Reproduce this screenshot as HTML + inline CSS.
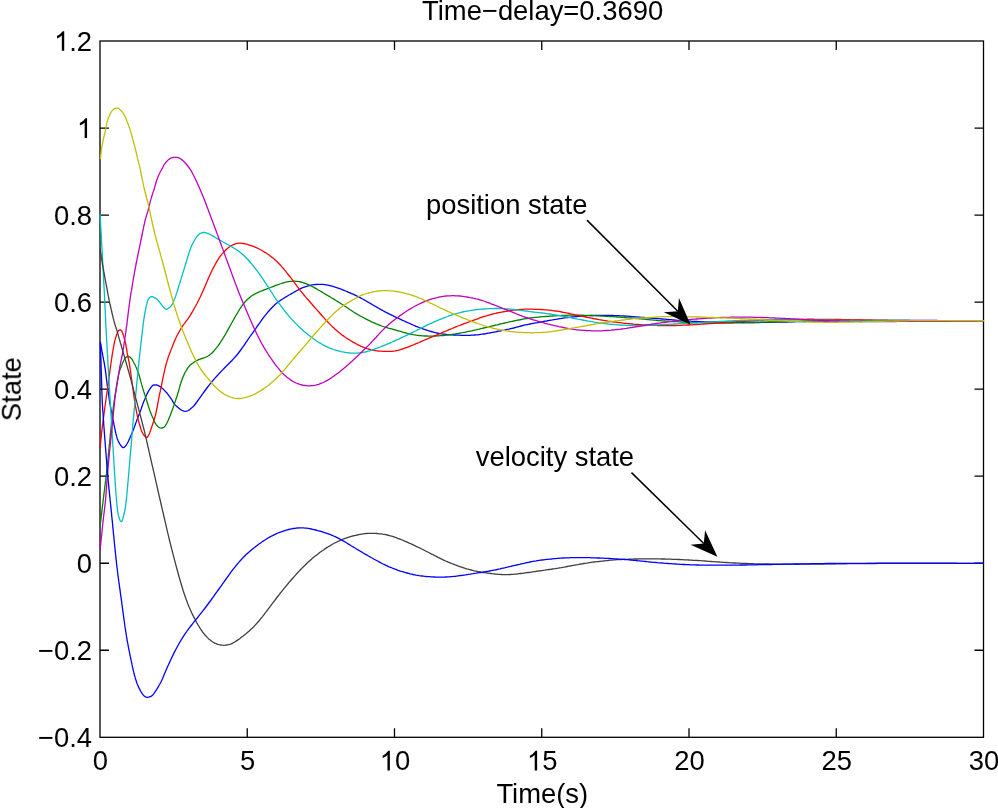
<!DOCTYPE html>
<html><head><meta charset="utf-8"><style>
html,body{margin:0;padding:0;background:#fff;width:998px;height:808px;overflow:hidden}
svg{display:block}
text{-webkit-font-smoothing:antialiased}
.t{filter:grayscale(1)}
</style></head><body>
<svg width="998" height="808" viewBox="0 0 998 808">
<rect width="998" height="808" fill="#fff"/>
<g stroke="#000" stroke-width="1.3" fill="none">
<rect x="100.0" y="41.0" width="883.5" height="696.3"/>
<path d="M247.25 737.3V728.3M247.25 41.0V50.0M394.50 737.3V728.3M394.50 41.0V50.0M541.75 737.3V728.3M541.75 41.0V50.0M689.00 737.3V728.3M689.00 41.0V50.0M836.25 737.3V728.3M836.25 41.0V50.0M100.0 128.04H109.0M983.5 128.04H974.5M100.0 215.07H109.0M983.5 215.07H974.5M100.0 302.11H109.0M983.5 302.11H974.5M100.0 389.15H109.0M983.5 389.15H974.5M100.0 476.19H109.0M983.5 476.19H974.5M100.0 563.23H109.0M983.5 563.23H974.5M100.0 650.26H109.0M983.5 650.26H974.5"/>
</g>
<defs><clipPath id="c"><rect x="99.0" y="40.0" width="885.5" height="698.3"/></clipPath></defs>
<g clip-path="url(#c)" fill="none" stroke-width="1.3" stroke-linejoin="round" stroke-linecap="round">
<path d="M100.4 342.4 100.6 343.4 100.7 344.3 100.9 345.0 101.0 345.7 101.1 346.5 101.3 347.4 101.5 348.2 101.6 349.1 101.8 350.0 101.9 350.9 102.1 351.8 102.3 352.7 102.4 353.6 102.6 354.4 102.7 355.2 102.9 356.0 103.0 356.8 103.2 357.6 103.3 358.3 103.5 359.1 103.6 359.9 103.8 360.8 104.0 361.6 104.1 362.5 104.3 363.5 104.5 364.5 104.6 365.5 104.8 366.6 105.0 367.8 105.2 369.1 105.4 370.5 105.5 371.2 105.6 371.9 105.7 372.7 105.8 373.5 105.9 374.2 106.0 375.0 106.1 375.8 106.2 376.6 106.3 377.5 106.4 378.3 106.5 379.1 106.6 379.9 106.7 380.7 106.8 381.5 106.9 382.3 107.0 383.1 107.1 383.9 107.2 384.6 107.3 385.4 107.4 386.1 107.5 386.8 107.7 388.2 107.9 389.5 108.1 390.7 108.2 391.8 108.4 392.9 108.5 394.0 108.7 395.0 108.8 396.0 108.9 396.9 109.1 397.8 109.2 398.7 109.3 399.6 109.4 400.5 109.6 401.4 109.7 402.2 109.9 403.1 110.0 404.0 110.2 404.9 110.3 405.8 110.5 406.6 110.6 407.5 110.8 408.3 111.0 409.1 111.1 409.9 111.3 410.7 111.4 411.5 111.6 412.3 111.8 413.1 111.9 413.9 112.1 414.7 112.2 415.4 112.4 416.2 112.5 417.0 112.7 417.7 112.8 418.5 113.0 419.2 113.1 419.9 113.3 420.7 113.4 421.4 113.5 422.1 113.7 422.8 113.8 423.5 113.9 424.2 114.1 424.9 114.2 425.6 114.4 426.3 114.5 427.0 114.6 427.7 114.8 428.4 114.9 429.1 115.1 429.8 115.2 430.6 115.4 431.3 115.5 432.0 115.7 432.7 115.9 433.7 116.2 434.7 116.4 435.6 116.6 436.5 116.9 437.4 117.1 438.2 117.4 438.9 117.6 439.6 117.9 440.3 118.3 441.1 118.6 441.9 119.0 442.6 119.4 443.3 119.8 444.0 120.2 444.7 120.7 445.4 121.1 446.0 121.6 446.5 122.2 447.1 122.8 447.5 123.6 447.6 124.3 447.2 124.9 446.6 125.4 446.1 125.9 445.5 126.4 444.9 126.8 444.2 127.2 443.5 127.6 442.7 128.0 442.0 128.4 441.3 128.7 440.5 129.1 439.7 129.4 439.1 129.6 438.4 130.0 437.7 130.3 436.9 130.6 436.1 131.0 435.3 131.4 434.4 131.7 433.8 132.0 433.1 132.3 432.4 132.6 431.7 132.9 431.0 133.2 430.3 133.5 429.5 133.8 428.7 134.1 427.8 134.4 427.0 134.7 426.1 135.0 425.2 135.3 424.4 135.6 423.6 135.9 422.8 136.2 422.1 136.5 421.4 136.7 420.7 137.0 419.8 137.3 419.0 137.7 418.2 138.0 417.4 138.3 416.6 138.6 415.8 138.9 415.0 139.2 414.2 139.5 413.4 139.8 412.6 140.1 411.8 140.4 411.0 140.7 410.2 141.0 409.4 141.3 408.5 141.6 407.6 141.9 406.7 142.2 405.8 142.5 405.0 142.8 404.1 143.1 403.3 143.4 402.5 143.7 401.8 144.0 401.1 144.3 400.4 144.6 399.7 144.9 398.9 145.2 398.2 145.5 397.4 145.9 396.6 146.2 395.8 146.6 395.0 146.9 394.2 147.3 393.4 147.7 392.6 148.1 391.8 148.5 391.2 148.9 390.5 149.3 389.9 149.7 389.2 150.1 388.6 150.6 388.0 151.1 387.2 151.6 386.6 152.1 386.0 152.7 385.5 153.3 385.1 154.1 385.0 154.8 384.9 155.6 384.9 156.3 385.0 157.1 385.2 157.8 385.4 158.5 385.7 159.2 386.1 159.9 386.5 160.5 386.9 161.1 387.3 161.7 387.8 162.2 388.3 162.8 388.8 163.3 389.3 163.9 389.9 164.4 390.4 165.0 391.0 165.6 391.6 166.1 392.2 166.7 392.8 167.2 393.3 167.6 393.9 168.1 394.5 168.5 395.2 169.0 395.8 169.4 396.4 169.8 397.0 170.3 397.6 170.7 398.1 171.1 398.7 171.5 399.3 172.0 400.0 172.4 400.7 172.7 401.4 173.1 402.1 173.5 402.8 173.9 403.4 174.4 404.0 174.9 404.6 175.4 405.1 176.0 405.7 176.6 406.2 177.1 406.8 177.7 407.3 178.3 407.7 178.9 408.2 179.4 408.7 180.0 409.1 180.6 409.5 181.3 410.0 182.0 410.4 182.7 410.7 183.5 411.0 184.2 411.2 185.0 411.3 186.7 411.1 188.2 410.5 189.7 409.6 191.2 408.3 192.7 407.0 194.2 405.5 195.7 403.5 197.2 401.5 198.7 399.4 200.2 397.3 201.7 395.2 203.2 393.1 204.7 391.0 206.2 389.0 207.7 387.0 209.2 385.1 210.7 383.2 212.2 381.3 213.7 379.6 215.2 377.9 216.7 376.2 218.2 374.6 219.7 373.0 221.2 371.4 222.7 369.9 224.2 368.3 225.7 366.8 227.2 365.3 228.7 363.7 230.2 362.2 231.7 360.7 233.2 359.1 234.7 357.5 236.2 355.8 237.7 354.0 239.2 352.0 240.7 350.0 242.2 347.9 243.7 345.8 245.2 343.6 246.7 341.4 248.2 339.2 249.7 337.0 251.2 334.9 252.7 332.8 254.2 330.7 255.7 328.6 257.1 326.5 258.6 324.4 260.1 322.3 261.6 320.2 263.1 318.2 264.6 316.2 266.1 314.3 267.6 312.4 269.1 310.7 270.6 309.0 272.1 307.5 273.6 306.0 275.1 304.6 276.6 303.3 278.1 302.1 279.6 301.0 281.1 299.9 282.6 299.0 284.1 298.0 285.6 297.1 287.1 296.2 288.6 295.3 290.1 294.5 291.6 293.6 293.1 292.7 294.6 291.9 296.1 291.0 297.6 290.2 299.1 289.4 300.6 288.6 302.1 287.9 303.6 287.3 305.1 286.8 306.6 286.3 308.1 285.9 309.6 285.5 311.1 285.2 312.6 284.9 314.1 284.7 315.6 284.5 317.1 284.4 318.6 284.3 320.1 284.3 321.6 284.3 323.1 284.4 324.6 284.6 326.1 284.8 327.6 285.1 329.1 285.4 330.6 285.8 332.1 286.2 333.6 286.6 335.1 287.1 336.6 287.6 338.1 288.1 339.6 288.7 341.1 289.2 342.6 289.8 344.1 290.4 345.6 291.0 347.1 291.6 348.6 292.3 350.1 292.9 351.6 293.6 353.1 294.2 354.6 294.9 356.1 295.6 357.6 296.4 359.1 297.1 360.6 297.9 362.1 298.7 363.6 299.5 365.1 300.4 366.6 301.2 368.1 302.1 369.6 303.0 371.1 303.9 372.6 304.8 374.1 305.6 375.6 306.5 377.1 307.4 378.6 308.3 380.1 309.1 381.6 309.9 383.1 310.8 384.6 311.6 386.1 312.4 387.6 313.1 389.1 313.9 390.6 314.6 392.1 315.3 393.6 316.1 395.1 316.8 396.6 317.5 398.1 318.2 399.6 318.9 401.1 319.6 402.6 320.3 404.1 321.0 405.6 321.7 407.1 322.4 408.6 323.0 410.1 323.7 411.6 324.3 413.1 325.0 414.6 325.6 416.1 326.3 417.6 326.9 419.1 327.5 420.6 328.0 422.1 328.6 423.6 329.2 425.1 329.7 426.6 330.2 428.1 330.7 429.6 331.1 431.1 331.5 432.6 331.9 434.1 332.3 435.6 332.7 437.1 333.0 438.6 333.3 440.1 333.6 441.6 333.8 443.1 334.1 444.6 334.2 446.1 334.4 447.6 334.6 449.1 334.7 450.6 334.8 452.1 334.9 453.6 335.0 455.1 335.0 456.6 335.1 458.1 335.2 459.6 335.2 461.1 335.3 462.6 335.3 464.1 335.3 465.6 335.3 467.1 335.3 468.6 335.3 470.1 335.3 471.6 335.2 473.1 335.1 474.6 335.0 476.1 334.9 477.6 334.8 479.1 334.6 480.6 334.4 482.1 334.2 483.6 334.0 485.1 333.8 486.6 333.5 488.1 333.2 489.6 333.0 491.1 332.7 492.6 332.4 494.1 332.1 495.6 331.8 497.1 331.5 498.6 331.2 500.1 331.0 501.6 330.7 503.1 330.4 504.6 330.1 506.1 329.7 507.6 329.4 509.1 329.1 510.6 328.7 512.1 328.3 513.6 328.0 515.1 327.6 516.6 327.2 518.1 326.8 519.6 326.4 521.1 326.0 522.6 325.6 524.1 325.2 525.6 324.9 527.1 324.6 528.6 324.3 530.1 324.0 531.6 323.7 533.1 323.4 534.6 323.1 536.1 322.8 537.6 322.6 539.1 322.3 540.6 322.0 542.1 321.8 543.6 321.5 545.1 321.2 546.6 321.0 548.1 320.7 549.6 320.4 551.1 320.1 552.6 319.9 554.1 319.6 555.6 319.3 557.1 319.1 558.6 318.8 560.1 318.6 561.6 318.4 563.1 318.1 564.6 317.9 566.1 317.7 567.6 317.5 569.1 317.4 570.6 317.2 572.1 317.0 573.6 316.9 575.1 316.7 576.6 316.6 578.1 316.4 579.6 316.3 581.1 316.2 582.6 316.1 584.1 315.9 585.6 315.8 587.1 315.7 588.6 315.7 590.1 315.6 591.6 315.5 593.1 315.5 594.6 315.4 596.1 315.4 597.6 315.4 599.1 315.4 600.6 315.4 602.1 315.4 603.6 315.4 605.1 315.4 606.6 315.4 608.1 315.4 609.6 315.5 611.1 315.5 612.6 315.5 614.1 315.6 615.6 315.6 617.1 315.7 618.6 315.7 620.1 315.8 621.6 315.9 623.1 315.9 624.6 316.0 626.1 316.1 627.6 316.2 629.1 316.4 630.6 316.5 632.1 316.6 633.6 316.7 635.1 316.8 636.6 316.9 638.1 317.1 639.6 317.2 641.1 317.3 642.6 317.4 644.1 317.5 645.6 317.7 647.1 317.8 648.6 317.9 650.1 318.0 651.6 318.1 653.1 318.3 654.6 318.4 656.1 318.5 657.6 318.6 659.1 318.7 660.6 318.9 662.1 319.0 663.6 319.1 665.1 319.2 666.6 319.4 668.1 319.5 669.6 319.6 671.1 319.7 672.6 319.9 674.1 320.0 675.6 320.1 677.1 320.3 678.6 320.4 680.1 320.5 681.6 320.6 683.1 320.8 684.6 320.9 686.1 321.0 687.6 321.1 689.1 321.2 690.6 321.2 692.1 321.3 693.6 321.4 695.1 321.5 696.6 321.5 698.1 321.6 699.6 321.6 701.1 321.7 702.6 321.7 704.1 321.8 705.6 321.8 707.1 321.8 708.6 321.9 710.1 321.9 711.6 321.9 713.1 321.9 714.6 322.0 716.1 322.0 717.6 322.0 719.1 322.1 720.6 322.1 722.1 322.1 723.6 322.2 725.1 322.2 726.6 322.2 728.1 322.2 729.6 322.3 731.1 322.3 732.6 322.3 734.1 322.3 735.6 322.4 737.1 322.4 738.6 322.4 740.1 322.4 741.6 322.4 743.1 322.5 744.6 322.5 746.1 322.5 747.6 322.5 749.1 322.5 750.6 322.5 752.1 322.5 753.6 322.5 755.1 322.5 756.6 322.5 758.1 322.5 759.6 322.5 761.1 322.4 762.6 322.4 764.1 322.4 765.6 322.4 767.1 322.4 768.6 322.3 770.1 322.3 771.6 322.3 773.1 322.3 774.6 322.2 776.1 322.2 777.6 322.2 779.1 322.1 780.6 322.1 782.1 322.1 783.6 322.0 785.1 322.0 786.6 322.0 788.1 321.9 789.6 321.9 791.1 321.9 792.6 321.8 794.1 321.8 795.6 321.7 797.1 321.7 798.6 321.7 800.1 321.6 801.6 321.6 803.1 321.6 804.6 321.5 806.1 321.5 807.6 321.4 809.1 321.4 810.6 321.4 812.1 321.3 813.6 321.3 815.1 321.2 816.6 321.2 818.1 321.2 819.6 321.1 821.1 321.1 822.6 321.1 824.1 321.0 825.6 321.0 827.1 321.0 828.6 321.0 830.1 320.9 831.6 320.9 833.1 320.9 834.6 320.8 836.1 320.8 837.6 320.8 839.1 320.8 840.6 320.7 842.1 320.7 843.6 320.7 845.1 320.7 846.6 320.6 848.1 320.6 849.6 320.6 851.1 320.6 852.6 320.6 854.1 320.5 855.6 320.5 857.1 320.5 858.6 320.5 860.1 320.5 861.6 320.5 863.1 320.5 864.6 320.4 866.1 320.4 867.6 320.4 869.1 320.4 870.6 320.4 872.1 320.4 873.6 320.4 875.1 320.4 876.6 320.4 878.1 320.4 879.6 320.4 881.1 320.4 882.6 320.4 884.1 320.4 885.6 320.4 887.1 320.4 888.6 320.4 890.1 320.4 891.6 320.4 893.1 320.4 894.6 320.4 896.1 320.4 897.6 320.4 899.1 320.4 900.6 320.4 902.1 320.4 903.6 320.4 905.1 320.4 906.6 320.5 908.1 320.5 909.6 320.5 911.1 320.5 912.6 320.5 914.1 320.5 915.6 320.5 917.1 320.5 918.6 320.5 920.1 320.5 921.6 320.5 923.1 320.5 924.6 320.5 926.1 320.5 927.6 320.5 929.1 320.5 930.6 320.5 932.1 320.5 933.6 320.5 935.1 320.5 936.6 320.5 938.1 320.6 939.6 320.6 941.1 320.6 942.6 320.6 944.1 320.6 945.6 320.6 947.1 320.6 948.6 320.6 950.1 320.6 951.6 320.6 953.1 320.6 954.6 320.6 956.1 320.6 957.6 320.6 959.1 320.6 960.6 320.6 962.1 320.6 963.6 320.6 965.1 320.6 966.6 320.6 968.1 320.6 969.6 320.7 971.1 320.7 972.6 320.7 974.1 320.7 975.6 320.7 977.1 320.7 978.6 320.7 980.1 320.7 981.6 320.7 983.1 320.7 983.4 320.7" stroke="#0000ff"/>
<path d="M100.2 525.6 100.3 524.6 100.4 523.5 100.6 522.2 100.7 521.5 100.8 520.8 100.9 520.0 100.9 519.2 101.0 518.4 101.1 517.5 101.2 516.6 101.3 515.7 101.5 514.8 101.6 513.9 101.7 512.9 101.8 511.9 101.9 510.9 102.0 510.0 102.1 509.0 102.3 508.0 102.4 506.9 102.5 505.9 102.6 504.9 102.7 503.9 102.9 502.9 103.0 501.9 103.1 501.0 103.2 500.0 103.3 499.0 103.4 498.1 103.6 497.1 103.7 496.1 103.8 495.1 103.9 494.1 104.1 493.0 104.2 492.0 104.3 491.0 104.5 489.9 104.6 488.9 104.7 487.8 104.9 486.7 105.0 485.7 105.1 484.6 105.3 483.5 105.4 482.4 105.5 481.3 105.7 480.2 105.8 479.1 105.9 478.0 106.1 476.9 106.2 475.8 106.3 474.7 106.5 473.6 106.6 472.5 106.7 471.4 106.9 470.2 107.0 469.1 107.1 468.0 107.2 466.9 107.3 465.7 107.5 464.6 107.6 463.4 107.7 462.2 107.8 461.0 107.9 459.8 108.1 458.6 108.2 457.3 108.3 456.1 108.4 454.9 108.5 453.6 108.7 452.4 108.8 451.2 108.9 449.9 109.0 448.7 109.1 447.5 109.2 446.3 109.3 445.1 109.5 443.9 109.6 442.7 109.7 441.6 109.8 440.4 109.9 439.3 110.0 438.2 110.1 437.1 110.2 436.0 110.3 435.0 110.4 434.0 110.5 433.0 110.6 432.0 110.7 431.1 110.8 430.2 110.9 429.3 111.0 428.5 111.0 427.6 111.1 426.8 111.2 426.0 111.3 425.2 111.4 424.4 111.5 423.6 111.5 422.9 111.6 422.1 111.7 421.4 111.8 420.7 111.8 420.0 111.9 419.3 112.0 418.6 112.1 417.8 112.2 416.4 112.4 415.0 112.5 414.3 112.6 413.6 112.6 412.9 112.7 412.2 112.8 411.5 112.9 410.7 113.0 410.0 113.1 409.2 113.2 408.5 113.3 407.7 113.4 407.0 113.5 406.2 113.6 405.4 113.7 404.7 113.8 403.9 113.9 403.1 114.0 402.3 114.1 401.6 114.2 400.8 114.4 400.0 114.5 399.3 114.6 398.5 114.7 397.7 114.8 397.0 114.9 396.2 115.0 395.5 115.1 394.8 115.2 394.1 115.4 393.3 115.5 392.6 115.7 391.2 115.9 389.9 116.1 388.6 116.3 387.4 116.5 386.2 116.7 385.0 116.9 383.9 117.1 382.8 117.2 381.7 117.4 380.7 117.6 379.7 117.8 378.7 118.0 377.7 118.2 376.8 118.3 375.9 118.5 375.0 118.7 374.2 118.9 373.4 119.1 372.6 119.3 371.9 119.5 371.2 119.8 370.2 120.1 369.3 120.4 368.5 120.7 367.7 121.0 366.9 121.3 366.2 121.6 365.5 121.9 364.7 122.2 364.0 122.5 363.3 122.8 362.6 123.1 361.9 123.4 361.3 123.8 360.5 124.2 359.7 124.6 359.1 125.1 358.4 125.6 357.8 126.2 357.2 126.8 356.9 127.5 356.6 128.3 356.5 129.0 356.6 129.7 357.0 130.3 357.4 130.9 357.9 131.4 358.5 131.9 359.1 132.3 359.8 132.7 360.5 133.1 361.2 133.5 362.0 133.9 362.8 134.3 363.5 134.7 364.2 135.0 364.8 135.3 365.5 135.7 366.2 136.0 367.0 136.4 367.8 136.7 368.7 137.0 369.4 137.3 370.1 137.5 370.8 137.8 371.5 138.1 372.3 138.4 373.0 138.6 373.8 138.9 374.5 139.1 375.3 139.3 376.1 139.6 376.9 139.8 377.7 140.0 378.5 140.2 379.3 140.5 380.1 140.7 380.9 140.9 381.7 141.2 382.5 141.4 383.3 141.6 384.2 141.8 385.0 142.1 385.8 142.3 386.6 142.5 387.4 142.8 388.2 143.0 389.0 143.2 389.7 143.4 390.5 143.7 391.4 144.0 392.2 144.3 393.0 144.5 393.8 144.8 394.5 145.0 395.2 145.3 396.0 145.6 397.0 145.8 397.7 146.1 398.5 146.3 399.4 146.6 400.3 146.9 401.2 147.2 402.2 147.5 403.2 147.8 404.2 148.1 405.2 148.4 406.2 148.7 407.1 149.0 408.1 149.3 408.9 149.6 409.7 149.8 410.4 150.1 411.3 150.4 412.2 150.7 412.9 151.1 413.7 151.4 414.5 151.7 415.2 152.1 416.0 152.4 416.8 152.7 417.4 153.0 418.1 153.3 418.8 153.5 419.5 153.8 420.2 154.1 420.8 154.4 421.5 154.8 422.3 155.2 423.1 155.6 423.7 156.0 424.3 156.5 425.0 157.1 425.6 157.6 426.2 158.2 426.8 158.8 427.2 159.4 427.6 160.0 427.9 160.8 428.1 161.5 428.1 162.3 428.0 163.0 427.7 163.6 427.4 164.3 427.0 164.8 426.4 165.3 425.8 165.7 425.2 166.1 424.4 166.5 423.8 166.9 423.0 167.3 422.2 167.7 421.4 168.0 420.7 168.3 420.0 168.6 419.2 168.9 418.5 169.3 417.6 169.6 416.8 170.0 415.9 170.4 414.9 170.8 414.0 171.1 413.0 171.5 412.0 171.9 411.1 172.2 410.1 172.5 409.4 172.7 408.7 173.0 408.0 173.2 407.3 173.4 406.6 173.7 405.9 173.9 405.2 174.2 404.5 174.4 403.8 174.7 403.1 174.9 402.4 175.1 401.7 175.4 401.0 175.7 400.0 176.0 399.0 176.3 398.1 176.7 397.1 177.0 396.2 177.3 395.2 177.6 394.3 177.8 393.4 178.1 392.6 178.4 391.8 178.6 391.0 178.8 390.3 179.0 389.4 179.2 388.7 179.4 387.9 179.6 387.2 179.8 386.5 180.0 385.7 180.3 384.8 180.5 384.0 180.8 383.2 181.0 382.4 181.3 381.6 181.6 380.7 181.9 379.9 182.2 379.1 182.5 378.3 182.8 377.5 183.1 376.8 183.4 376.1 183.7 375.4 184.0 374.7 184.3 374.0 184.6 373.4 185.2 372.3 186.7 369.7 188.2 367.4 189.7 365.6 191.2 364.2 192.7 363.2 194.2 362.1 195.7 361.2 197.2 360.4 198.7 359.7 200.2 359.1 201.7 358.6 203.2 358.1 204.7 357.6 206.2 357.0 207.7 356.2 209.2 355.2 210.7 354.0 212.2 352.7 213.7 351.2 215.2 349.4 216.7 347.6 218.2 345.6 219.7 343.5 221.2 341.2 222.7 338.8 224.2 336.3 225.7 333.7 227.2 331.1 228.7 328.4 230.2 325.7 231.7 323.0 233.2 320.3 234.7 317.6 236.2 315.0 237.7 312.5 239.2 310.0 240.7 307.7 242.2 305.5 243.7 303.5 245.2 301.7 246.7 300.1 248.2 298.7 249.7 297.4 251.2 296.3 252.7 295.3 254.2 294.4 255.7 293.5 257.2 292.8 258.7 292.1 260.2 291.5 261.7 290.9 263.2 290.3 264.7 289.7 266.2 289.2 267.7 288.6 269.2 288.0 270.7 287.5 272.2 286.9 273.7 286.3 275.2 285.7 276.7 285.1 278.2 284.6 279.7 284.0 281.2 283.5 282.7 283.0 284.2 282.6 285.7 282.2 287.2 281.9 288.7 281.6 290.2 281.4 291.7 281.3 293.2 281.2 294.7 281.2 296.2 281.3 297.7 281.4 299.2 281.7 300.7 282.0 302.2 282.4 303.7 282.8 305.2 283.3 306.7 283.9 308.2 284.6 309.7 285.3 311.2 286.0 312.7 286.8 314.2 287.6 315.7 288.4 317.2 289.3 318.7 290.2 320.2 291.0 321.7 291.9 323.2 292.8 324.7 293.7 326.2 294.6 327.7 295.5 329.2 296.4 330.7 297.3 332.2 298.2 333.7 299.1 335.2 300.0 336.7 301.0 338.2 301.9 339.7 302.8 341.2 303.8 342.7 304.8 344.2 305.8 345.7 306.8 347.2 307.8 348.7 308.8 350.2 309.8 351.7 310.8 353.2 311.8 354.7 312.7 356.2 313.6 357.7 314.5 359.2 315.4 360.7 316.2 362.2 317.0 363.7 317.8 365.2 318.6 366.7 319.4 368.2 320.1 369.7 320.8 371.2 321.6 372.7 322.3 374.2 322.9 375.7 323.6 377.2 324.2 378.7 324.8 380.2 325.4 381.7 326.0 383.2 326.5 384.7 327.0 386.2 327.4 387.7 327.9 389.2 328.3 390.7 328.7 392.2 329.1 393.7 329.5 395.2 329.9 396.7 330.4 398.2 330.8 399.7 331.2 401.2 331.6 402.7 332.1 404.2 332.5 405.7 332.9 407.2 333.3 408.7 333.6 410.2 334.0 411.7 334.3 413.2 334.6 414.7 334.8 416.2 335.1 417.7 335.3 419.2 335.5 420.7 335.6 422.2 335.8 423.7 335.9 425.2 336.0 426.7 336.0 428.2 336.1 429.7 336.1 431.2 336.1 432.7 336.1 434.2 336.0 435.7 336.0 437.2 335.9 438.7 335.8 440.2 335.7 441.7 335.6 443.2 335.5 444.7 335.3 446.2 335.2 447.7 335.0 449.2 334.8 450.7 334.6 452.2 334.4 453.7 334.2 455.2 334.0 456.7 333.7 458.2 333.5 459.7 333.2 461.2 332.9 462.7 332.7 464.2 332.4 465.7 332.1 467.2 331.7 468.7 331.4 470.2 331.1 471.7 330.8 473.2 330.4 474.7 330.1 476.2 329.8 477.7 329.4 479.2 329.1 480.7 328.7 482.2 328.4 483.7 328.0 485.2 327.6 486.7 327.3 488.2 326.9 489.7 326.6 491.2 326.2 492.7 325.8 494.2 325.5 495.7 325.1 497.2 324.8 498.7 324.4 500.2 324.0 501.7 323.7 503.2 323.3 504.7 323.0 506.2 322.6 507.7 322.3 509.2 321.9 510.7 321.6 512.2 321.3 513.7 321.0 515.2 320.6 516.7 320.3 518.2 320.0 519.7 319.8 521.2 319.5 522.7 319.2 524.2 318.9 525.7 318.7 527.2 318.5 528.7 318.2 530.2 318.0 531.7 317.8 533.2 317.6 534.7 317.4 536.2 317.3 537.7 317.1 539.2 317.0 540.7 316.8 542.2 316.7 543.7 316.6 545.2 316.5 546.7 316.4 548.2 316.3 549.7 316.2 551.2 316.1 552.7 316.0 554.2 315.9 555.7 315.8 557.2 315.7 558.7 315.6 560.2 315.6 561.7 315.5 563.2 315.4 564.7 315.4 566.2 315.3 567.7 315.3 569.2 315.2 570.7 315.2 572.2 315.2 573.7 315.2 575.2 315.1 576.7 315.1 578.2 315.2 579.7 315.2 581.2 315.2 582.7 315.2 584.2 315.3 585.7 315.3 587.2 315.4 588.7 315.4 590.2 315.5 591.7 315.5 593.2 315.6 594.7 315.7 596.2 315.8 597.7 315.8 599.2 315.9 600.7 316.0 602.2 316.1 603.7 316.2 605.2 316.3 606.7 316.3 608.2 316.4 609.7 316.5 611.2 316.6 612.7 316.7 614.2 316.8 615.7 316.9 617.2 317.0 618.7 317.1 620.2 317.2 621.7 317.3 623.2 317.4 624.7 317.5 626.2 317.6 627.7 317.8 629.2 317.9 630.7 318.0 632.2 318.1 633.7 318.2 635.2 318.3 636.7 318.5 638.2 318.6 639.7 318.8 641.2 318.9 642.7 319.0 644.2 319.2 645.7 319.3 647.2 319.5 648.7 319.6 650.2 319.8 651.7 319.9 653.2 320.1 654.7 320.2 656.2 320.3 657.7 320.5 659.2 320.6 660.7 320.7 662.2 320.8 663.7 320.9 665.2 321.0 666.7 321.1 668.2 321.2 669.7 321.3 671.2 321.4 672.7 321.5 674.2 321.6 675.7 321.7 677.2 321.7 678.7 321.8 680.2 321.9 681.7 322.0 683.2 322.1 684.7 322.1 686.2 322.2 687.7 322.3 689.2 322.3 690.7 322.4 692.2 322.5 693.7 322.5 695.2 322.6 696.7 322.6 698.2 322.7 699.7 322.7 701.2 322.7 702.7 322.8 704.2 322.8 705.7 322.8 707.2 322.9 708.7 322.9 710.2 322.9 711.7 322.9 713.2 323.0 714.7 323.0 716.2 323.0 717.7 323.0 719.2 323.0 720.7 323.0 722.2 323.0 723.7 323.0 725.2 323.0 726.7 323.0 728.2 323.0 729.7 323.0 731.2 323.0 732.7 323.0 734.2 322.9 735.7 322.9 737.2 322.9 738.7 322.9 740.2 322.8 741.7 322.8 743.2 322.8 744.7 322.7 746.2 322.7 747.7 322.6 749.2 322.6 750.7 322.5 752.2 322.5 753.7 322.5 755.2 322.4 756.7 322.4 758.2 322.3 759.7 322.3 761.2 322.2 762.7 322.2 764.2 322.2 765.7 322.1 767.2 322.1 768.7 322.0 770.2 322.0 771.7 322.0 773.2 321.9 774.7 321.9 776.2 321.8 777.7 321.8 779.2 321.8 780.7 321.7 782.2 321.7 783.7 321.6 785.2 321.6 786.7 321.6 788.2 321.5 789.7 321.5 791.2 321.5 792.7 321.4 794.2 321.4 795.7 321.3 797.2 321.3 798.7 321.3 800.2 321.2 801.7 321.2 803.2 321.2 804.7 321.1 806.2 321.1 807.7 321.0 809.2 321.0 810.7 321.0 812.2 321.0 813.7 320.9 815.2 320.9 816.7 320.9 818.2 320.8 819.7 320.8 821.2 320.8 822.7 320.8 824.2 320.7 825.7 320.7 827.2 320.7 828.7 320.7 830.2 320.6 831.7 320.6 833.2 320.6 834.7 320.6 836.2 320.6 837.7 320.5 839.2 320.5 840.7 320.5 842.2 320.5 843.7 320.5 845.2 320.5 846.7 320.4 848.2 320.4 849.7 320.4 851.2 320.4 852.7 320.4 854.2 320.4 855.7 320.4 857.2 320.4 858.7 320.3 860.2 320.3 861.7 320.3 863.2 320.3 864.7 320.3 866.2 320.3 867.7 320.3 869.2 320.3 870.7 320.3 872.2 320.3 873.7 320.3 875.2 320.3 876.7 320.3 878.2 320.3 879.7 320.3 881.2 320.3 882.7 320.3 884.2 320.3 885.7 320.3 887.2 320.4 888.7 320.4 890.2 320.4 891.7 320.4 893.2 320.4 894.7 320.4 896.2 320.4 897.7 320.4 899.2 320.5 900.7 320.5 902.2 320.5 903.7 320.5 905.2 320.5 906.7 320.5 908.2 320.5 909.7 320.5 911.2 320.6 912.7 320.6 914.2 320.6 915.7 320.6 917.2 320.6 918.7 320.6 920.2 320.6 921.7 320.6 923.2 320.6 924.7 320.6 926.2 320.6 927.7 320.6 929.2 320.6 930.7 320.6 932.2 320.6 933.7 320.6 935.2 320.6 936.7 320.6 938.2 320.6 939.7 320.6 941.2 320.6 942.7 320.7 944.2 320.7 945.7 320.7 947.2 320.7 948.7 320.7 950.2 320.7 951.7 320.7 953.2 320.7 954.7 320.7 956.2 320.7 957.7 320.7 959.2 320.7 960.7 320.7 962.2 320.7 963.7 320.7 965.2 320.7 966.7 320.7 968.2 320.7 969.7 320.7 971.2 320.7 972.7 320.7 974.2 320.7 975.7 320.7 977.2 320.7 978.7 320.7 980.2 320.7 981.7 320.7 983.2 320.7 983.5 320.7" stroke="#008000"/>
<path d="M100.1 447.5 100.2 446.5 100.3 445.7 100.4 444.7 100.5 443.7 100.6 442.6 100.7 441.4 100.8 440.1 101.0 438.9 101.1 437.6 101.2 436.3 101.4 435.0 101.5 433.8 101.6 432.6 101.7 431.5 101.9 430.5 102.0 429.5 102.1 428.6 102.2 427.6 102.3 426.7 102.4 425.9 102.5 425.0 102.7 424.1 102.8 423.2 102.9 422.3 103.0 421.4 103.1 420.5 103.3 419.5 103.4 418.6 103.5 417.5 103.7 416.5 103.8 415.4 104.0 414.2 104.1 413.1 104.3 411.9 104.4 410.7 104.6 409.4 104.8 408.2 104.9 406.9 105.1 405.7 105.3 404.5 105.4 403.2 105.6 402.0 105.8 400.8 105.9 399.6 106.1 398.4 106.2 397.3 106.4 396.1 106.6 394.9 106.8 393.8 106.9 392.7 107.1 391.5 107.3 390.4 107.4 389.2 107.6 388.1 107.8 387.0 107.9 385.9 108.1 384.8 108.3 383.7 108.4 382.6 108.6 381.5 108.7 380.4 108.9 379.3 109.0 378.2 109.2 377.1 109.3 376.0 109.4 374.9 109.6 373.8 109.7 372.7 109.8 371.7 110.0 370.6 110.1 369.6 110.3 368.5 110.4 367.5 110.5 366.5 110.7 365.5 110.8 364.5 110.9 363.5 111.1 362.6 111.2 361.6 111.4 360.6 111.5 359.7 111.6 358.8 111.8 357.8 111.9 356.9 112.1 356.0 112.2 355.1 112.3 354.2 112.5 353.3 112.6 352.4 112.8 351.6 112.9 350.7 113.1 349.8 113.2 349.0 113.4 348.1 113.5 347.3 113.6 346.5 113.8 345.7 113.9 344.9 114.1 344.1 114.3 343.3 114.4 342.5 114.6 341.8 114.7 341.0 114.9 340.3 115.1 339.7 115.4 338.6 115.7 337.6 116.0 336.6 116.3 335.7 116.6 334.8 116.9 334.0 117.3 333.2 117.5 332.5 117.9 331.7 118.3 330.9 118.8 330.3 119.5 330.0 120.3 330.0 121.0 330.1 121.5 330.6 121.9 331.3 122.3 332.1 122.5 332.8 122.8 333.6 123.1 334.5 123.5 335.5 123.7 336.1 123.9 336.8 124.1 337.6 124.3 338.3 124.5 339.1 124.7 339.8 124.9 340.6 125.1 341.4 125.3 342.2 125.5 343.1 125.7 344.1 125.8 345.0 126.0 346.0 126.2 347.0 126.4 348.0 126.6 349.0 126.7 350.0 126.9 351.0 127.1 352.0 127.2 352.9 127.4 353.8 127.5 354.6 127.7 355.4 127.8 356.1 128.0 357.1 128.2 358.0 128.4 358.9 128.6 359.7 128.7 360.5 128.9 361.3 129.1 362.2 129.2 363.0 129.4 364.0 129.6 365.0 129.7 366.1 129.8 366.8 129.9 367.5 130.0 368.2 130.2 368.9 130.3 369.7 130.4 370.4 130.5 371.2 130.6 371.9 130.7 372.7 130.8 373.5 130.9 374.2 131.0 375.0 131.1 375.8 131.2 376.5 131.3 377.3 131.4 378.1 131.6 378.9 131.7 379.7 131.8 380.5 131.9 381.3 132.0 382.1 132.1 382.9 132.2 383.7 132.4 384.5 132.5 385.3 132.6 386.2 132.7 387.0 132.8 387.8 132.9 388.7 133.1 389.6 133.2 390.5 133.3 391.4 133.4 392.3 133.5 393.2 133.7 394.1 133.8 395.0 133.9 395.9 134.0 396.7 134.1 397.6 134.3 398.4 134.4 399.2 134.5 400.0 134.6 400.8 134.7 401.5 134.8 402.2 135.0 402.9 135.1 404.0 135.3 405.0 135.5 406.0 135.6 406.9 135.8 407.9 136.0 408.8 136.1 409.7 136.3 410.6 136.5 411.4 136.6 412.3 136.8 413.1 136.9 413.9 137.1 414.6 137.2 415.4 137.4 416.2 137.6 416.9 137.7 417.7 137.9 418.5 138.1 419.3 138.3 420.2 138.6 421.0 138.8 421.8 139.0 422.6 139.2 423.4 139.5 424.2 139.7 425.0 139.9 425.8 140.2 426.5 140.4 427.2 140.6 427.9 140.8 428.6 141.0 429.3 141.3 430.0 141.6 430.9 141.9 431.7 142.3 432.5 142.7 433.3 143.2 434.1 143.7 434.8 144.2 435.5 144.8 436.2 145.3 436.7 145.9 437.2 146.6 437.4 147.3 437.3 147.8 436.7 148.1 436.1 148.5 435.5 148.9 434.7 149.2 434.1 149.5 433.3 149.8 432.5 150.1 431.6 150.4 430.7 150.8 429.8 151.1 428.8 151.4 428.1 151.6 427.4 151.8 426.8 152.1 426.1 152.3 425.3 152.6 424.6 152.8 423.9 153.1 423.1 153.3 422.3 153.6 421.5 153.9 420.7 154.1 419.9 154.4 419.0 154.6 418.2 154.9 417.3 155.1 416.4 155.4 415.5 155.6 414.5 155.8 413.6 156.1 412.6 156.3 411.5 156.5 410.5 156.7 409.4 156.9 408.4 157.1 407.3 157.3 406.2 157.5 405.1 157.7 404.0 157.9 402.9 158.1 401.8 158.3 400.8 158.5 399.7 158.7 398.7 158.9 397.7 159.1 396.7 159.3 395.7 159.5 394.7 159.7 393.7 159.9 392.7 160.2 391.7 160.4 390.7 160.6 389.7 160.8 388.7 161.0 387.8 161.2 386.8 161.4 385.8 161.6 384.8 161.8 383.8 162.0 382.8 162.2 381.8 162.4 380.8 162.6 379.7 162.8 378.7 163.0 377.7 163.2 376.7 163.5 375.7 163.7 374.7 163.9 373.7 164.1 372.7 164.3 371.8 164.5 370.8 164.7 369.9 164.9 369.1 165.1 368.2 165.3 367.4 165.5 366.6 165.7 365.8 165.9 365.1 166.1 364.3 166.3 363.6 166.5 362.9 166.7 362.2 166.9 361.5 167.1 360.7 167.3 360.0 167.6 359.4 167.8 358.7 168.0 358.0 168.2 357.3 168.5 356.6 168.7 355.9 169.1 354.9 169.4 354.0 169.8 353.0 170.2 352.0 170.6 351.0 170.9 350.1 171.2 349.4 171.5 348.7 171.7 348.1 172.0 347.4 172.3 346.7 172.5 346.0 172.8 345.3 173.1 344.6 173.3 343.9 173.6 343.2 173.9 342.5 174.2 341.8 174.5 341.1 174.8 340.4 175.1 339.7 175.4 339.0 175.7 338.3 176.1 337.5 176.4 336.8 176.8 336.0 177.2 335.3 177.7 334.5 178.1 333.7 178.5 332.9 179.0 332.1 179.4 331.3 179.8 330.6 180.3 329.8 180.7 329.1 181.1 328.4 181.5 327.7 181.9 327.1 182.5 326.2 183.0 325.4 183.6 324.6 184.1 323.9 184.6 323.3 185.1 322.6 186.6 320.7 188.1 318.6 189.6 316.3 191.1 313.9 192.6 311.4 194.1 308.7 195.6 306.0 197.1 303.2 198.6 300.2 200.1 297.2 201.6 294.0 203.1 290.7 204.6 287.2 206.1 283.7 207.6 280.2 209.1 276.8 210.6 273.5 212.1 270.3 213.6 267.4 215.1 264.5 216.6 261.9 218.1 259.4 219.6 257.2 221.1 255.2 222.6 253.4 224.1 251.7 225.6 250.2 227.1 248.8 228.6 247.6 230.1 246.5 231.6 245.5 233.1 244.8 234.6 244.1 236.1 243.7 237.6 243.4 239.1 243.2 240.6 243.2 242.1 243.3 243.6 243.5 245.1 243.8 246.6 244.2 248.1 244.6 249.6 245.1 251.1 245.6 252.6 246.1 254.1 246.7 255.6 247.3 257.1 248.0 258.6 248.7 260.1 249.5 261.6 250.3 263.1 251.2 264.6 252.1 266.1 253.0 267.6 254.0 269.1 255.1 270.6 256.2 272.1 257.4 273.6 258.6 275.1 259.9 276.6 261.3 278.1 262.7 279.6 264.2 281.1 265.9 282.6 267.6 284.1 269.3 285.6 271.2 287.1 273.1 288.6 275.0 290.1 276.9 291.6 278.9 293.1 280.9 294.6 282.9 296.1 284.9 297.6 286.9 299.1 288.8 300.6 290.8 302.1 292.7 303.6 294.5 305.1 296.3 306.6 298.1 308.1 299.8 309.6 301.5 311.1 303.2 312.6 305.0 314.1 306.7 315.6 308.4 317.1 310.1 318.6 311.8 320.1 313.5 321.6 315.2 323.1 316.9 324.6 318.6 326.1 320.2 327.6 321.8 329.1 323.4 330.6 324.9 332.1 326.4 333.6 327.8 335.1 329.2 336.6 330.5 338.1 331.8 339.6 333.1 341.1 334.2 342.6 335.4 344.1 336.4 345.6 337.5 347.1 338.5 348.6 339.4 350.1 340.3 351.6 341.2 353.1 342.1 354.6 342.9 356.1 343.8 357.6 344.6 359.1 345.3 360.6 346.1 362.1 346.7 363.6 347.4 365.1 348.0 366.6 348.5 368.1 349.0 369.6 349.4 371.1 349.8 372.6 350.1 374.1 350.4 375.6 350.6 377.1 350.8 378.6 351.0 380.1 351.1 381.6 351.2 383.1 351.3 384.6 351.4 386.1 351.4 387.6 351.4 389.1 351.4 390.6 351.4 392.1 351.3 393.6 351.1 395.1 350.9 396.6 350.6 398.1 350.3 399.6 349.9 401.1 349.4 402.6 349.0 404.1 348.4 405.6 347.9 407.1 347.4 408.6 346.8 410.1 346.2 411.6 345.6 413.1 345.0 414.6 344.4 416.1 343.7 417.6 343.1 419.1 342.5 420.6 341.8 422.1 341.2 423.6 340.5 425.1 339.9 426.6 339.2 428.1 338.6 429.6 337.9 431.1 337.3 432.6 336.7 434.1 336.0 435.6 335.4 437.1 334.8 438.6 334.1 440.1 333.5 441.6 332.9 443.1 332.2 444.6 331.6 446.1 331.0 447.6 330.3 449.1 329.7 450.6 329.1 452.1 328.5 453.6 327.8 455.1 327.2 456.6 326.6 458.1 326.0 459.6 325.5 461.1 324.9 462.6 324.3 464.1 323.7 465.6 323.2 467.1 322.6 468.6 322.1 470.1 321.5 471.6 321.0 473.1 320.4 474.6 319.8 476.1 319.3 477.6 318.8 479.1 318.2 480.6 317.7 482.1 317.2 483.6 316.7 485.1 316.2 486.6 315.8 488.1 315.3 489.6 314.9 491.1 314.5 492.6 314.1 494.1 313.7 495.6 313.4 497.1 313.0 498.6 312.7 500.1 312.4 501.6 312.1 503.1 311.8 504.6 311.5 506.1 311.3 507.6 311.0 509.1 310.8 510.6 310.6 512.1 310.4 513.6 310.2 515.1 310.0 516.6 309.8 518.1 309.7 519.6 309.5 521.1 309.4 522.6 309.3 524.1 309.2 525.6 309.2 527.1 309.2 528.6 309.2 530.1 309.2 531.6 309.2 533.1 309.2 534.6 309.3 536.1 309.3 537.6 309.4 539.1 309.4 540.6 309.5 542.1 309.6 543.6 309.7 545.1 309.8 546.6 309.9 548.1 310.1 549.6 310.2 551.1 310.4 552.6 310.6 554.1 310.8 555.6 311.0 557.1 311.2 558.6 311.4 560.1 311.7 561.6 312.0 563.1 312.3 564.6 312.6 566.1 312.9 567.6 313.2 569.1 313.5 570.6 313.9 572.1 314.2 573.6 314.5 575.1 314.9 576.6 315.2 578.1 315.5 579.6 315.8 581.1 316.1 582.6 316.4 584.1 316.7 585.6 317.0 587.1 317.3 588.6 317.6 590.1 317.9 591.6 318.2 593.1 318.5 594.6 318.8 596.1 319.0 597.6 319.3 599.1 319.6 600.6 319.8 602.1 320.1 603.6 320.4 605.1 320.6 606.6 320.8 608.1 321.1 609.6 321.3 611.1 321.5 612.6 321.8 614.1 322.0 615.6 322.2 617.1 322.4 618.6 322.6 620.1 322.7 621.6 322.9 623.1 323.1 624.6 323.3 626.1 323.4 627.6 323.6 629.1 323.7 630.6 323.9 632.1 324.0 633.6 324.2 635.1 324.3 636.6 324.4 638.1 324.5 639.6 324.6 641.1 324.7 642.6 324.8 644.1 324.9 645.6 325.0 647.1 325.1 648.6 325.2 650.1 325.2 651.6 325.3 653.1 325.3 654.6 325.4 656.1 325.4 657.6 325.5 659.1 325.5 660.6 325.5 662.1 325.6 663.6 325.6 665.1 325.6 666.6 325.6 668.1 325.6 669.6 325.6 671.1 325.5 672.6 325.5 674.1 325.5 675.6 325.5 677.1 325.4 678.6 325.4 680.1 325.3 681.6 325.3 683.1 325.2 684.6 325.2 686.1 325.1 687.6 325.0 689.1 325.0 690.6 324.9 692.1 324.8 693.6 324.7 695.1 324.6 696.6 324.5 698.1 324.4 699.6 324.3 701.1 324.2 702.6 324.1 704.1 324.0 705.6 323.9 707.1 323.8 708.6 323.7 710.1 323.6 711.6 323.5 713.1 323.4 714.6 323.3 716.1 323.2 717.6 323.0 719.1 322.9 720.6 322.8 722.1 322.7 723.6 322.6 725.1 322.5 726.6 322.4 728.1 322.3 729.6 322.2 731.1 322.1 732.6 322.0 734.1 321.9 735.6 321.8 737.1 321.7 738.6 321.7 740.1 321.6 741.6 321.5 743.1 321.4 744.6 321.3 746.1 321.2 747.6 321.1 749.1 321.0 750.6 320.9 752.1 320.8 753.6 320.8 755.1 320.7 756.6 320.6 758.1 320.5 759.6 320.4 761.1 320.3 762.6 320.3 764.1 320.2 765.6 320.1 767.1 320.0 768.6 319.9 770.1 319.9 771.6 319.8 773.1 319.8 774.6 319.7 776.1 319.7 777.6 319.6 779.1 319.6 780.6 319.5 782.1 319.5 783.6 319.5 785.1 319.4 786.6 319.4 788.1 319.4 789.6 319.4 791.1 319.4 792.6 319.3 794.1 319.3 795.6 319.3 797.1 319.3 798.6 319.3 800.1 319.3 801.6 319.3 803.1 319.3 804.6 319.3 806.1 319.3 807.6 319.2 809.1 319.2 810.6 319.2 812.1 319.2 813.6 319.2 815.1 319.3 816.6 319.3 818.1 319.3 819.6 319.3 821.1 319.3 822.6 319.3 824.1 319.3 825.6 319.3 827.1 319.3 828.6 319.3 830.1 319.4 831.6 319.4 833.1 319.4 834.6 319.4 836.1 319.4 837.6 319.5 839.1 319.5 840.6 319.5 842.1 319.6 843.6 319.6 845.1 319.6 846.6 319.7 848.1 319.7 849.6 319.7 851.1 319.8 852.6 319.8 854.1 319.8 855.6 319.9 857.1 319.9 858.6 320.0 860.1 320.0 861.6 320.0 863.1 320.1 864.6 320.1 866.1 320.1 867.6 320.2 869.1 320.2 870.6 320.2 872.1 320.2 873.6 320.3 875.1 320.3 876.6 320.3 878.1 320.4 879.6 320.4 881.1 320.4 882.6 320.5 884.1 320.5 885.6 320.5 887.1 320.5 888.6 320.6 890.1 320.6 891.6 320.6 893.1 320.7 894.6 320.7 896.1 320.7 897.6 320.7 899.1 320.8 900.6 320.8 902.1 320.8 903.6 320.8 905.1 320.9 906.6 320.9 908.1 320.9 909.6 320.9 911.1 320.9 912.6 320.9 914.1 321.0 915.6 321.0 917.1 321.0 918.6 321.0 920.1 321.0 921.6 321.0 923.1 321.0 924.6 321.0 926.1 321.0 927.6 321.0 929.1 321.0 930.6 321.0 932.1 321.0 933.6 321.0 935.1 321.0 936.6 321.0 938.1 321.0 939.6 321.0 941.1 321.0 942.6 321.0 944.1 321.0 945.6 321.0 947.1 320.9 948.6 320.9 950.1 320.9 951.6 320.9 953.1 320.9 954.6 320.9 956.1 320.9 957.6 320.9 959.1 320.9 960.6 320.9 962.1 320.8 963.6 320.8 965.1 320.8 966.6 320.8 968.1 320.8 969.6 320.8 971.1 320.8 972.6 320.8 974.1 320.8 975.6 320.8 977.1 320.7 978.6 320.7 980.1 320.7 981.6 320.7 983.1 320.7 983.4 320.7" stroke="#ff0000"/>
<path d="M100.1 214.4 100.1 215.2 100.2 216.1 100.2 217.0 100.3 218.1 100.4 219.2 100.4 220.5 100.5 221.7 100.6 223.1 100.7 224.5 100.7 226.0 100.8 227.5 100.9 229.1 101.0 230.7 101.1 232.3 101.2 233.9 101.3 235.6 101.4 237.3 101.5 239.0 101.6 240.7 101.6 242.4 101.7 244.1 101.8 245.8 101.9 247.4 102.0 249.1 102.1 250.7 102.2 252.2 102.3 253.8 102.3 255.2 102.4 256.6 102.5 258.0 102.6 259.3 102.6 260.6 102.7 261.9 102.8 263.2 102.8 264.5 102.9 265.7 103.0 267.0 103.1 268.2 103.1 269.4 103.2 270.6 103.2 271.8 103.3 273.0 103.4 274.2 103.4 275.4 103.5 276.6 103.6 277.8 103.6 278.9 103.7 280.1 103.7 281.3 103.8 282.4 103.9 283.6 103.9 284.7 104.0 285.9 104.0 287.0 104.1 288.2 104.2 289.4 104.2 290.5 104.3 291.7 104.3 292.8 104.4 294.0 104.5 295.2 104.5 296.3 104.6 297.4 104.6 298.6 104.7 299.7 104.7 300.8 104.8 301.9 104.8 302.9 104.9 304.0 104.9 305.1 105.0 306.2 105.0 307.3 105.1 308.3 105.1 309.4 105.2 310.5 105.2 311.6 105.3 312.7 105.3 313.8 105.4 314.9 105.4 316.0 105.5 317.1 105.5 318.3 105.6 319.4 105.6 320.6 105.7 321.8 105.7 323.0 105.8 324.2 105.9 325.4 105.9 326.7 106.0 328.0 106.1 329.3 106.1 330.7 106.2 332.0 106.3 333.4 106.4 334.9 106.5 336.3 106.5 337.8 106.6 339.3 106.7 340.8 106.8 342.3 106.9 343.8 107.0 345.4 107.0 346.9 107.1 348.5 107.2 350.0 107.3 351.5 107.4 353.1 107.5 354.6 107.6 356.2 107.7 357.7 107.8 359.2 107.8 360.7 107.9 362.2 108.0 363.7 108.1 365.1 108.2 366.6 108.3 368.0 108.3 369.3 108.4 370.7 108.5 372.0 108.6 373.3 108.6 374.5 108.7 375.8 108.8 377.0 108.9 378.2 108.9 379.3 109.0 380.5 109.1 381.6 109.1 382.7 109.2 383.8 109.2 384.9 109.3 386.0 109.4 387.1 109.4 388.1 109.5 389.2 109.6 390.2 109.6 391.3 109.7 392.4 109.8 393.4 109.8 394.5 109.9 395.6 109.9 396.7 110.0 397.8 110.1 398.9 110.1 400.0 110.2 401.2 110.3 402.4 110.4 403.6 110.4 404.8 110.5 406.0 110.6 407.3 110.7 408.5 110.7 409.8 110.8 411.1 110.9 412.4 111.0 413.8 111.0 415.1 111.1 416.5 111.2 417.8 111.3 419.2 111.4 420.6 111.5 421.9 111.5 423.3 111.6 424.7 111.7 426.1 111.8 427.5 111.9 428.9 112.0 430.3 112.1 431.7 112.1 433.1 112.2 434.6 112.3 436.0 112.4 437.4 112.5 438.8 112.6 440.1 112.7 441.5 112.7 442.9 112.8 444.3 112.9 445.6 113.0 447.0 113.1 448.4 113.2 449.7 113.3 451.1 113.3 452.5 113.4 453.9 113.5 455.3 113.6 456.8 113.7 458.2 113.8 459.6 113.9 461.0 113.9 462.5 114.0 463.9 114.1 465.3 114.2 466.7 114.3 468.1 114.4 469.5 114.5 470.9 114.5 472.3 114.6 473.6 114.7 475.0 114.8 476.3 114.9 477.6 115.0 478.9 115.0 480.1 115.1 481.3 115.2 482.5 115.3 483.7 115.3 484.8 115.4 485.9 115.5 487.0 115.6 488.0 115.6 489.1 115.7 490.1 115.8 491.0 115.9 492.0 115.9 492.9 116.0 493.8 116.1 494.7 116.1 495.6 116.2 496.4 116.3 497.3 116.3 498.1 116.4 498.9 116.5 499.7 116.5 500.4 116.6 501.2 116.7 501.9 116.7 502.6 116.9 504.0 117.0 505.3 117.1 506.6 117.2 507.8 117.4 508.9 117.5 510.0 117.6 511.0 117.8 512.0 117.9 512.8 118.0 513.6 118.2 514.3 118.4 515.2 118.6 516.0 118.8 516.8 119.0 517.6 119.3 518.4 119.6 519.2 119.8 519.9 120.2 520.6 120.6 521.2 121.3 521.6 121.9 521.2 122.2 520.5 122.5 519.8 122.7 519.0 123.0 518.1 123.2 517.3 123.4 516.5 123.6 515.7 123.8 514.9 124.0 514.1 124.2 513.2 124.4 512.3 124.6 511.2 124.8 510.5 124.9 509.8 125.1 508.9 125.2 508.1 125.4 507.1 125.5 506.1 125.7 505.0 125.9 503.8 126.0 502.6 126.2 501.2 126.3 499.8 126.4 499.1 126.5 498.4 126.5 497.6 126.6 496.9 126.7 496.1 126.8 495.3 126.8 494.5 126.9 493.7 127.0 492.9 127.1 492.1 127.2 491.2 127.2 490.4 127.3 489.6 127.4 488.7 127.5 487.9 127.5 487.0 127.6 486.2 127.7 485.4 127.8 484.5 127.8 483.7 127.9 482.8 128.0 482.0 128.1 481.2 128.2 480.3 128.2 479.5 128.3 478.7 128.4 477.8 128.4 477.0 128.5 476.1 128.6 475.3 128.7 474.4 128.7 473.6 128.8 472.7 128.9 471.9 129.0 471.0 129.0 470.1 129.1 469.2 129.2 468.4 129.3 467.5 129.3 466.6 129.4 465.7 129.5 464.7 129.6 463.8 129.6 462.9 129.7 461.9 129.8 461.0 129.9 460.0 130.0 459.0 130.0 458.0 130.1 457.0 130.2 456.0 130.3 455.0 130.4 454.0 130.5 452.9 130.6 451.8 130.7 450.7 130.8 449.5 130.9 448.4 131.0 447.2 131.1 446.1 131.2 444.9 131.3 443.7 131.4 442.5 131.5 441.2 131.6 440.0 131.7 438.8 131.8 437.6 131.9 436.3 132.0 435.1 132.1 433.9 132.2 432.7 132.3 431.4 132.4 430.2 132.5 429.0 132.6 427.9 132.7 426.7 132.8 425.5 132.9 424.4 133.0 423.3 133.1 422.1 133.2 421.1 133.3 420.0 133.4 419.0 133.5 417.9 133.6 416.9 133.7 415.9 133.8 414.9 133.9 413.9 134.0 412.9 134.0 412.0 134.1 411.0 134.2 410.1 134.3 409.1 134.4 408.2 134.5 407.3 134.6 406.4 134.7 405.4 134.8 404.5 134.9 403.6 134.9 402.7 135.0 401.8 135.1 400.9 135.2 400.0 135.3 399.1 135.4 398.3 135.5 397.4 135.6 396.5 135.7 395.6 135.7 394.7 135.8 393.8 135.9 392.9 136.0 392.0 136.1 391.1 136.2 390.2 136.3 389.3 136.3 388.4 136.4 387.5 136.5 386.6 136.6 385.7 136.7 384.8 136.8 384.0 136.8 383.1 136.9 382.2 137.0 381.3 137.1 380.4 137.2 379.6 137.3 378.7 137.3 377.8 137.4 377.0 137.5 376.1 137.6 375.2 137.7 374.4 137.8 373.5 137.8 372.7 137.9 371.8 138.0 371.0 138.1 370.1 138.2 369.3 138.3 368.5 138.3 367.6 138.4 366.8 138.5 366.0 138.6 365.2 138.7 364.4 138.8 363.6 138.8 362.8 138.9 362.0 139.0 361.2 139.1 360.4 139.2 359.6 139.2 358.8 139.3 358.0 139.4 357.3 139.5 356.5 139.6 355.7 139.7 355.0 139.8 354.2 139.8 353.4 139.9 352.7 140.0 351.9 140.1 351.2 140.2 350.4 140.2 349.7 140.3 348.9 140.4 348.2 140.5 347.4 140.6 346.7 140.7 345.9 140.8 345.2 140.8 344.5 140.9 343.7 141.0 343.0 141.1 342.3 141.2 341.5 141.2 340.8 141.3 340.1 141.4 339.3 141.5 338.6 141.6 337.8 141.7 337.1 141.7 336.4 141.8 335.6 141.9 334.9 142.0 334.2 142.1 333.5 142.2 332.7 142.2 332.0 142.3 331.3 142.4 330.6 142.5 329.9 142.7 328.5 142.8 327.1 143.0 325.8 143.2 324.5 143.3 323.2 143.5 322.0 143.7 320.8 143.8 319.6 144.0 318.5 144.2 317.3 144.4 316.2 144.5 315.1 144.7 314.1 144.9 313.1 145.1 312.1 145.2 311.1 145.4 310.2 145.6 309.3 145.8 308.4 145.9 307.6 146.1 306.8 146.3 306.1 146.4 305.3 146.7 304.4 146.9 303.5 147.1 302.6 147.3 301.9 147.6 301.2 147.9 300.3 148.2 299.5 148.6 298.8 149.0 298.2 149.5 297.6 150.1 297.2 150.8 296.8 151.5 296.6 152.3 296.5 153.0 296.8 153.6 297.2 154.2 297.6 154.9 297.9 155.6 298.3 156.2 298.7 156.8 299.1 157.4 299.6 158.0 300.2 158.5 300.8 158.9 301.4 159.4 302.0 159.9 302.7 160.5 303.4 161.0 304.0 161.6 304.7 162.0 305.3 162.5 305.9 163.0 306.5 163.5 307.1 164.0 307.7 164.6 308.3 165.2 308.8 165.8 309.2 166.6 309.3 167.3 308.9 167.9 308.5 168.5 308.0 169.2 307.6 169.8 307.2 170.4 306.7 170.9 306.2 171.4 305.6 171.8 304.9 172.2 304.2 172.6 303.5 173.0 302.7 173.3 302.0 173.6 301.3 173.9 300.7 174.2 299.9 174.5 299.2 174.8 298.5 175.1 297.7 175.3 297.0 175.6 296.3 175.9 295.4 176.2 294.4 176.4 293.7 176.7 293.0 176.9 292.3 177.2 291.5 177.4 290.7 177.7 289.8 177.9 289.0 178.2 288.2 178.5 287.3 178.7 286.5 179.0 285.6 179.2 284.8 179.5 284.0 179.8 283.2 180.0 282.4 180.3 281.6 180.5 280.7 180.8 279.9 181.0 279.1 181.3 278.2 181.5 277.4 181.8 276.6 182.0 275.7 182.3 274.9 182.5 274.1 182.8 273.2 183.0 272.4 183.3 271.6 183.5 270.8 183.8 270.0 184.0 269.2 184.3 268.4 184.5 267.5 184.8 266.7 185.1 265.7 186.6 260.8 188.1 255.9 189.6 251.0 191.1 246.9 192.6 243.8 194.1 241.1 195.6 238.5 197.1 236.3 198.6 234.7 200.1 233.5 201.6 232.8 203.1 232.5 204.6 232.5 206.1 232.8 207.6 233.3 209.1 234.0 210.6 234.7 212.1 235.6 213.6 236.4 215.1 237.3 216.6 238.2 218.1 239.1 219.6 240.0 221.1 240.8 222.6 241.7 224.1 242.5 225.6 243.4 227.1 244.2 228.6 245.0 230.1 245.9 231.6 246.7 233.1 247.6 234.6 248.5 236.1 249.5 237.6 250.5 239.1 251.5 240.6 252.7 242.1 253.9 243.6 255.3 245.1 256.7 246.6 258.2 248.1 259.8 249.6 261.5 251.1 263.2 252.6 265.1 254.1 267.0 255.6 268.9 257.1 270.9 258.6 272.9 260.1 275.0 261.6 277.1 263.1 279.3 264.6 281.6 266.1 283.9 267.6 286.2 269.1 288.5 270.6 290.9 272.1 293.2 273.6 295.5 275.1 297.8 276.6 300.0 278.1 302.1 279.6 304.2 281.1 306.2 282.6 308.2 284.1 310.2 285.6 312.0 287.1 313.9 288.6 315.7 290.1 317.4 291.6 319.1 293.1 320.8 294.6 322.4 296.1 323.9 297.6 325.4 299.1 326.9 300.6 328.3 302.1 329.6 303.6 331.0 305.1 332.2 306.6 333.5 308.1 334.7 309.6 335.8 311.1 337.0 312.6 338.1 314.1 339.2 315.6 340.2 317.1 341.2 318.6 342.2 320.1 343.1 321.6 344.0 323.1 344.9 324.6 345.7 326.1 346.4 327.6 347.1 329.1 347.8 330.6 348.4 332.1 348.9 333.6 349.5 335.1 350.0 336.6 350.4 338.1 350.8 339.6 351.2 341.1 351.6 342.6 351.9 344.1 352.1 345.6 352.4 347.1 352.6 348.6 352.8 350.1 353.0 351.6 353.1 353.1 353.1 354.6 353.2 356.1 353.1 357.6 353.1 359.1 352.9 360.6 352.8 362.1 352.5 363.6 352.3 365.1 352.0 366.6 351.6 368.1 351.2 369.6 350.8 371.1 350.3 372.6 349.8 374.1 349.3 375.6 348.7 377.1 348.2 378.6 347.6 380.1 347.0 381.6 346.4 383.1 345.8 384.6 345.2 386.1 344.6 387.6 343.9 389.1 343.3 390.6 342.6 392.1 342.0 393.6 341.3 395.1 340.6 396.6 339.9 398.1 339.3 399.6 338.6 401.1 337.9 402.6 337.2 404.1 336.5 405.6 335.8 407.1 335.1 408.6 334.4 410.1 333.7 411.6 332.9 413.1 332.2 414.6 331.5 416.1 330.7 417.6 329.9 419.1 329.2 420.6 328.4 422.1 327.6 423.6 326.9 425.1 326.1 426.6 325.4 428.1 324.7 429.6 324.0 431.1 323.3 432.6 322.6 434.1 321.9 435.6 321.3 437.1 320.6 438.6 320.0 440.1 319.4 441.6 318.8 443.1 318.2 444.6 317.6 446.1 317.0 447.6 316.5 449.1 315.9 450.6 315.4 452.1 314.9 453.6 314.4 455.1 314.0 456.6 313.6 458.1 313.1 459.6 312.8 461.1 312.4 462.6 312.0 464.1 311.7 465.6 311.4 467.1 311.1 468.6 310.8 470.1 310.6 471.6 310.3 473.1 310.1 474.6 309.9 476.1 309.7 477.6 309.5 479.1 309.4 480.6 309.3 482.1 309.1 483.6 309.0 485.1 308.9 486.6 308.8 488.1 308.7 489.6 308.7 491.1 308.6 492.6 308.6 494.1 308.5 495.6 308.5 497.1 308.5 498.6 308.5 500.1 308.6 501.6 308.6 503.1 308.7 504.6 308.8 506.1 308.9 507.6 309.0 509.1 309.1 510.6 309.2 512.1 309.4 513.6 309.5 515.1 309.7 516.6 309.9 518.1 310.1 519.6 310.2 521.1 310.4 522.6 310.6 524.1 310.8 525.6 311.0 527.1 311.2 528.6 311.4 530.1 311.6 531.6 311.8 533.1 312.0 534.6 312.2 536.1 312.3 537.6 312.5 539.1 312.7 540.6 312.9 542.1 313.0 543.6 313.2 545.1 313.4 546.6 313.6 548.1 313.8 549.6 314.0 551.1 314.2 552.6 314.5 554.1 314.7 555.6 314.9 557.1 315.2 558.6 315.4 560.1 315.7 561.6 316.0 563.1 316.2 564.6 316.5 566.1 316.8 567.6 317.1 569.1 317.4 570.6 317.7 572.1 318.0 573.6 318.3 575.1 318.6 576.6 318.9 578.1 319.2 579.6 319.4 581.1 319.7 582.6 320.0 584.1 320.3 585.6 320.5 587.1 320.8 588.6 321.1 590.1 321.3 591.6 321.6 593.1 321.8 594.6 322.1 596.1 322.3 597.6 322.6 599.1 322.8 600.6 323.0 602.1 323.2 603.6 323.4 605.1 323.6 606.6 323.8 608.1 324.0 609.6 324.1 611.1 324.3 612.6 324.4 614.1 324.6 615.6 324.7 617.1 324.8 618.6 324.9 620.1 325.0 621.6 325.1 623.1 325.2 624.6 325.2 626.1 325.3 627.6 325.4 629.1 325.4 630.6 325.5 632.1 325.5 633.6 325.5 635.1 325.6 636.6 325.6 638.1 325.6 639.6 325.6 641.1 325.5 642.6 325.5 644.1 325.5 645.6 325.5 647.1 325.4 648.6 325.4 650.1 325.3 651.6 325.2 653.1 325.2 654.6 325.1 656.1 325.0 657.6 324.9 659.1 324.8 660.6 324.7 662.1 324.7 663.6 324.6 665.1 324.5 666.6 324.4 668.1 324.3 669.6 324.2 671.1 324.1 672.6 324.1 674.1 324.0 675.6 323.9 677.1 323.8 678.6 323.7 680.1 323.6 681.6 323.6 683.1 323.5 684.6 323.4 686.1 323.3 687.6 323.2 689.1 323.2 690.6 323.1 692.1 323.0 693.6 322.9 695.1 322.8 696.6 322.8 698.1 322.7 699.6 322.6 701.1 322.5 702.6 322.4 704.1 322.3 705.6 322.3 707.1 322.2 708.6 322.1 710.1 322.0 711.6 321.9 713.1 321.8 714.6 321.8 716.1 321.7 717.6 321.6 719.1 321.5 720.6 321.4 722.1 321.3 723.6 321.3 725.1 321.2 726.6 321.1 728.1 321.0 729.6 321.0 731.1 320.9 732.6 320.8 734.1 320.7 735.6 320.7 737.1 320.6 738.6 320.6 740.1 320.5 741.6 320.5 743.1 320.4 744.6 320.4 746.1 320.3 747.6 320.3 749.1 320.2 750.6 320.2 752.1 320.1 753.6 320.1 755.1 320.1 756.6 320.0 758.1 320.0 759.6 320.0 761.1 320.0 762.6 319.9 764.1 319.9 765.6 319.9 767.1 319.9 768.6 319.9 770.1 319.9 771.6 319.8 773.1 319.8 774.6 319.8 776.1 319.8 777.6 319.8 779.1 319.8 780.6 319.8 782.1 319.8 783.6 319.8 785.1 319.8 786.6 319.8 788.1 319.8 789.6 319.8 791.1 319.8 792.6 319.8 794.1 319.8 795.6 319.8 797.1 319.8 798.6 319.9 800.1 319.9 801.6 319.9 803.1 319.9 804.6 319.9 806.1 319.9 807.6 319.9 809.1 320.0 810.6 320.0 812.1 320.0 813.6 320.0 815.1 320.0 816.6 320.0 818.1 320.1 819.6 320.1 821.1 320.1 822.6 320.1 824.1 320.1 825.6 320.1 827.1 320.2 828.6 320.2 830.1 320.2 831.6 320.2 833.1 320.2 834.6 320.3 836.1 320.3 837.6 320.3 839.1 320.3 840.6 320.4 842.1 320.4 843.6 320.4 845.1 320.4 846.6 320.5 848.1 320.5 849.6 320.5 851.1 320.6 852.6 320.6 854.1 320.6 855.6 320.6 857.1 320.7 858.6 320.7 860.1 320.7 861.6 320.8 863.1 320.8 864.6 320.8 866.1 320.8 867.6 320.9 869.1 320.9 870.6 320.9 872.1 320.9 873.6 320.9 875.1 321.0 876.6 321.0 878.1 321.0 879.6 321.0 881.1 321.0 882.6 321.0 884.1 321.0 885.6 321.0 887.1 321.0 888.6 321.0 890.1 321.0 891.6 321.0 893.1 321.0 894.6 321.0 896.1 321.0 897.6 321.0 899.1 321.0 900.6 321.0 902.1 321.0 903.6 321.0 905.1 321.0 906.6 320.9 908.1 320.9 909.6 320.9 911.1 320.9 912.6 320.9 914.1 320.9 915.6 320.9 917.1 320.9 918.6 320.9 920.1 320.8 921.6 320.8 923.1 320.8 924.6 320.8 926.1 320.8 927.6 320.8 929.1 320.8 930.6 320.8 932.1 320.8 933.6 320.8 935.1 320.8 936.6 320.8 938.1 320.8 939.6 320.8 941.1 320.8 942.6 320.8 944.1 320.8 945.6 320.8 947.1 320.8 948.6 320.8 950.1 320.8 951.6 320.8 953.1 320.7 954.6 320.7 956.1 320.7 957.6 320.7 959.1 320.7 960.6 320.7 962.1 320.7 963.6 320.7 965.1 320.7 966.6 320.7 968.1 320.7 969.6 320.7 971.1 320.7 972.6 320.7 974.1 320.7 975.6 320.7 977.1 320.7 978.6 320.7 980.1 320.7 981.6 320.7 983.1 320.7 983.4 320.7" stroke="#00bfbf"/>
<path d="M100.2 549.0 100.3 548.0 100.4 546.7 100.5 546.0 100.6 545.2 100.7 544.4 100.8 543.6 100.8 542.7 100.9 541.8 101.0 540.9 101.1 539.9 101.2 538.9 101.3 537.9 101.4 536.9 101.6 535.8 101.7 534.8 101.8 533.7 101.9 532.7 102.0 531.6 102.1 530.6 102.2 529.5 102.3 528.5 102.4 527.5 102.5 526.5 102.6 525.6 102.7 524.6 102.8 523.7 102.9 522.8 103.0 522.0 103.1 521.2 103.2 520.4 103.3 519.7 103.3 518.9 103.4 518.2 103.5 517.5 103.7 516.1 103.8 514.7 104.0 513.4 104.2 512.1 104.3 510.8 104.5 509.4 104.7 508.0 104.7 507.3 104.8 506.6 104.9 505.9 105.0 505.1 105.1 504.3 105.2 503.5 105.2 502.7 105.3 501.8 105.4 500.9 105.5 500.0 105.6 499.1 105.7 498.1 105.8 497.1 105.8 496.1 105.9 495.1 106.0 494.1 106.1 493.1 106.2 492.0 106.2 490.9 106.3 489.9 106.4 488.8 106.5 487.6 106.6 486.5 106.7 485.4 106.7 484.2 106.8 483.1 106.9 481.9 107.0 480.8 107.1 479.6 107.2 478.4 107.3 477.2 107.4 476.0 107.5 474.7 107.6 473.5 107.7 472.3 107.8 471.0 107.9 469.8 108.0 468.5 108.1 467.3 108.2 466.0 108.3 464.7 108.4 463.4 108.6 462.1 108.7 460.7 108.8 459.3 109.0 457.9 109.1 456.4 109.3 455.0 109.4 453.5 109.5 452.0 109.7 450.5 109.8 449.0 110.0 447.5 110.2 446.0 110.3 444.5 110.5 443.0 110.6 441.5 110.8 440.0 110.9 438.6 111.1 437.1 111.2 435.7 111.4 434.3 111.5 432.9 111.6 431.5 111.8 430.2 111.9 428.9 112.0 427.6 112.2 426.4 112.3 425.2 112.4 424.0 112.5 422.9 112.6 421.8 112.7 420.7 112.8 419.7 112.9 418.6 113.0 417.6 113.1 416.6 113.2 415.7 113.3 414.7 113.4 413.8 113.5 412.9 113.6 412.0 113.6 411.1 113.7 410.3 113.8 409.4 113.9 408.6 114.0 407.8 114.0 407.0 114.1 406.2 114.2 405.4 114.3 404.6 114.3 403.9 114.4 403.1 114.5 402.4 114.6 401.6 114.7 400.9 114.7 400.2 114.8 399.4 114.9 398.7 115.0 398.0 115.1 397.3 115.3 395.9 115.4 394.6 115.6 393.4 115.8 392.2 116.0 391.0 116.1 389.9 116.3 388.8 116.5 387.7 116.7 386.7 116.8 385.7 117.0 384.6 117.2 383.6 117.3 382.6 117.5 381.5 117.7 380.5 117.8 379.4 118.0 378.4 118.2 377.3 118.3 376.3 118.5 375.3 118.6 374.3 118.8 373.3 118.9 372.3 119.1 371.3 119.3 370.3 119.4 369.4 119.6 368.4 119.7 367.4 119.9 366.5 120.1 365.5 120.3 364.6 120.4 363.7 120.6 362.9 120.8 362.1 120.9 361.2 121.1 360.4 121.3 359.6 121.5 358.8 121.6 357.9 121.8 357.0 122.0 356.1 122.2 355.1 122.4 354.0 122.6 352.9 122.8 351.7 123.0 350.4 123.2 349.1 123.4 347.8 123.7 346.4 123.8 345.6 123.9 344.9 124.0 344.2 124.1 343.4 124.2 342.7 124.4 341.9 124.5 341.2 124.6 340.4 124.7 339.6 124.8 338.8 124.9 338.0 125.1 337.2 125.2 336.4 125.3 335.6 125.4 334.8 125.5 334.0 125.6 333.2 125.8 332.4 125.9 331.6 126.0 330.8 126.1 330.0 126.2 329.2 126.3 328.4 126.4 327.5 126.5 326.7 126.7 325.8 126.8 324.9 126.9 324.1 127.0 323.2 127.1 322.3 127.2 321.4 127.3 320.5 127.4 319.6 127.5 318.7 127.7 317.8 127.8 316.9 127.9 315.9 128.0 315.0 128.1 314.1 128.2 313.2 128.3 312.4 128.4 311.5 128.5 310.6 128.6 309.7 128.8 308.9 128.9 308.0 129.0 307.2 129.1 306.4 129.2 305.6 129.3 304.8 129.4 304.0 129.5 303.2 129.6 302.5 129.7 301.8 129.8 301.0 129.9 300.3 130.0 299.6 130.2 298.2 130.4 296.9 130.6 295.5 130.8 294.2 131.0 292.9 131.2 291.6 131.5 290.4 131.7 289.1 131.9 287.8 132.1 286.6 132.3 285.3 132.5 284.0 132.7 282.7 132.9 281.5 133.1 280.2 133.3 279.0 133.5 277.8 133.8 276.6 134.0 275.4 134.2 274.2 134.4 273.0 134.6 271.7 134.9 270.5 135.1 269.2 135.4 267.8 135.6 266.4 135.8 265.7 135.9 265.0 136.0 264.3 136.2 263.5 136.3 262.7 136.5 261.9 136.7 261.1 136.8 260.3 137.0 259.5 137.2 258.6 137.3 257.8 137.5 256.9 137.7 256.1 137.9 255.2 138.0 254.3 138.2 253.4 138.4 252.6 138.6 251.7 138.8 250.8 138.9 249.9 139.1 249.1 139.3 248.2 139.5 247.3 139.7 246.5 139.8 245.6 140.0 244.8 140.2 243.9 140.4 243.1 140.5 242.3 140.7 241.5 140.8 240.8 141.0 240.0 141.2 239.3 141.3 238.5 141.5 237.8 141.6 237.0 141.8 236.3 141.9 235.5 142.1 234.8 142.2 234.0 142.4 233.3 142.5 232.6 142.7 231.9 142.8 231.2 142.9 230.5 143.1 229.8 143.4 228.4 143.6 227.0 143.9 225.7 144.2 224.5 144.5 223.3 144.7 222.1 145.0 221.0 145.2 220.0 145.4 219.0 145.7 218.2 145.9 217.4 146.1 216.7 146.4 215.7 146.7 214.8 147.0 213.9 147.3 213.1 147.5 212.2 147.8 211.3 148.1 210.3 148.3 209.6 148.5 208.9 148.7 208.2 148.9 207.4 149.1 206.6 149.3 205.8 149.5 205.0 149.6 204.3 149.8 203.5 150.0 202.7 150.2 201.9 150.4 201.1 150.6 200.4 150.8 199.7 151.0 198.9 151.2 198.3 151.5 197.3 151.8 196.3 152.1 195.3 152.4 194.4 152.7 193.5 153.0 192.6 153.3 191.7 153.6 190.8 153.9 189.9 154.2 189.0 154.5 188.0 154.7 187.1 155.0 186.1 155.3 185.1 155.5 184.2 155.8 183.2 156.1 182.3 156.3 181.4 156.6 180.6 156.9 179.7 157.2 178.9 157.5 178.1 157.8 177.4 158.1 176.6 158.4 175.9 158.7 175.2 159.0 174.5 159.4 173.7 159.7 173.0 160.1 172.3 160.4 171.6 160.8 171.0 161.2 170.3 161.6 169.6 162.0 168.9 162.4 168.1 162.7 167.4 163.1 166.7 163.4 166.0 163.8 165.3 164.2 164.6 164.6 164.0 165.1 163.4 165.5 162.8 166.0 162.3 166.5 161.7 167.0 161.2 167.5 160.6 168.0 160.1 168.5 159.7 169.3 159.1 170.0 158.6 170.8 158.2 171.6 157.9 172.4 157.7 173.2 157.5 174.0 157.4 174.9 157.4 175.7 157.4 176.4 157.4 177.3 157.5 178.1 157.7 178.8 157.9 179.6 158.2 180.4 158.7 181.0 159.1 181.7 159.6 182.4 160.2 183.0 160.7 183.5 161.2 184.1 161.8 184.6 162.3 185.2 163.0 186.7 164.7 188.2 166.5 189.7 168.6 191.2 170.9 192.7 173.7 194.2 176.7 195.7 179.7 197.2 182.9 198.7 186.3 200.2 189.7 201.7 193.2 203.2 196.8 204.7 200.6 206.2 204.5 207.7 208.5 209.2 212.5 210.7 216.5 212.2 220.5 213.7 224.5 215.2 228.5 216.7 232.6 218.2 236.6 219.7 240.7 221.2 244.8 222.7 248.9 224.2 253.0 225.7 257.1 227.2 261.2 228.7 265.2 230.2 269.3 231.7 273.4 233.2 277.5 234.7 281.6 236.2 285.6 237.7 289.5 239.2 293.4 240.7 297.1 242.2 300.7 243.7 304.3 245.2 307.8 246.7 311.3 248.2 314.8 249.7 318.2 251.2 321.7 252.7 325.1 254.2 328.4 255.7 331.6 257.2 334.8 258.7 337.8 260.2 340.7 261.7 343.5 263.2 346.1 264.7 348.7 266.2 351.1 267.7 353.5 269.2 355.8 270.7 358.0 272.2 360.2 273.7 362.3 275.2 364.4 276.7 366.4 278.2 368.2 279.7 370.0 281.2 371.7 282.7 373.3 284.2 374.8 285.7 376.1 287.2 377.4 288.7 378.5 290.2 379.6 291.7 380.6 293.2 381.5 294.7 382.3 296.2 383.0 297.7 383.6 299.2 384.2 300.7 384.6 302.2 385.0 303.7 385.3 305.2 385.5 306.7 385.7 308.2 385.8 309.7 385.8 311.2 385.7 312.7 385.6 314.2 385.4 315.7 385.1 317.2 384.7 318.7 384.3 320.2 383.7 321.7 383.1 323.2 382.5 324.7 381.7 326.2 380.9 327.7 380.1 329.2 379.2 330.7 378.2 332.2 377.2 333.7 376.2 335.2 375.1 336.7 374.0 338.2 372.9 339.7 371.8 341.2 370.6 342.7 369.3 344.2 368.1 345.7 366.8 347.2 365.5 348.7 364.2 350.2 362.8 351.7 361.5 353.2 360.1 354.7 358.7 356.2 357.2 357.7 355.8 359.2 354.4 360.7 352.9 362.2 351.5 363.7 350.0 365.2 348.5 366.7 347.1 368.2 345.6 369.7 344.1 371.2 342.5 372.7 340.9 374.2 339.3 375.7 337.7 377.2 336.0 378.7 334.4 380.2 332.7 381.7 331.1 383.2 329.6 384.7 328.1 386.2 326.7 387.7 325.4 389.2 324.1 390.7 322.8 392.2 321.6 393.7 320.4 395.2 319.3 396.7 318.2 398.2 317.0 399.7 315.9 401.2 314.9 402.7 313.8 404.2 312.8 405.7 311.8 407.2 310.8 408.7 309.8 410.2 308.9 411.7 308.0 413.2 307.2 414.7 306.3 416.2 305.5 417.7 304.7 419.2 304.0 420.7 303.3 422.2 302.6 423.7 301.9 425.2 301.3 426.7 300.7 428.2 300.2 429.7 299.7 431.2 299.2 432.7 298.7 434.2 298.3 435.7 297.9 437.2 297.6 438.7 297.2 440.2 296.9 441.7 296.6 443.2 296.4 444.7 296.2 446.2 296.0 447.7 295.9 449.2 295.8 450.7 295.8 452.2 295.7 453.7 295.7 455.2 295.8 456.7 295.8 458.2 295.9 459.7 296.0 461.2 296.2 462.7 296.4 464.2 296.6 465.7 296.8 467.2 297.0 468.7 297.3 470.2 297.6 471.7 297.8 473.2 298.2 474.7 298.5 476.2 298.9 477.7 299.2 479.2 299.6 480.7 300.1 482.2 300.5 483.7 301.0 485.2 301.5 486.7 302.1 488.2 302.6 489.7 303.2 491.2 303.8 492.7 304.3 494.2 304.9 495.7 305.5 497.2 306.1 498.7 306.7 500.2 307.3 501.7 307.9 503.2 308.5 504.7 309.1 506.2 309.7 507.7 310.3 509.2 310.9 510.7 311.5 512.2 312.1 513.7 312.7 515.2 313.4 516.7 314.0 518.2 314.6 519.7 315.2 521.2 315.7 522.7 316.3 524.2 316.8 525.7 317.4 527.2 317.9 528.7 318.4 530.2 318.8 531.7 319.3 533.2 319.8 534.7 320.2 536.2 320.7 537.7 321.1 539.2 321.6 540.7 322.0 542.2 322.4 543.7 322.8 545.2 323.3 546.7 323.7 548.2 324.1 549.7 324.4 551.2 324.8 552.7 325.2 554.2 325.6 555.7 325.9 557.2 326.2 558.7 326.6 560.2 326.9 561.7 327.2 563.2 327.5 564.7 327.8 566.2 328.1 567.7 328.4 569.2 328.7 570.7 328.9 572.2 329.2 573.7 329.4 575.2 329.6 576.7 329.8 578.2 329.9 579.7 330.1 581.2 330.2 582.7 330.3 584.2 330.4 585.7 330.5 587.2 330.6 588.7 330.7 590.2 330.7 591.7 330.8 593.2 330.8 594.7 330.8 596.2 330.9 597.7 330.9 599.2 330.8 600.7 330.8 602.2 330.8 603.7 330.7 605.2 330.6 606.7 330.5 608.2 330.4 609.7 330.3 611.2 330.2 612.7 330.0 614.2 329.9 615.7 329.7 617.2 329.5 618.7 329.3 620.2 329.2 621.7 329.0 623.2 328.8 624.7 328.6 626.2 328.4 627.7 328.1 629.2 327.9 630.7 327.7 632.2 327.5 633.7 327.2 635.2 327.0 636.7 326.7 638.2 326.5 639.7 326.2 641.2 326.0 642.7 325.7 644.2 325.5 645.7 325.2 647.2 325.0 648.7 324.7 650.2 324.5 651.7 324.2 653.2 324.0 654.7 323.8 656.2 323.5 657.7 323.3 659.2 323.1 660.7 322.9 662.2 322.7 663.7 322.5 665.2 322.3 666.7 322.1 668.2 321.9 669.7 321.7 671.2 321.6 672.7 321.4 674.2 321.2 675.7 321.0 677.2 320.9 678.7 320.7 680.2 320.5 681.7 320.3 683.2 320.2 684.7 320.0 686.2 319.9 687.7 319.7 689.2 319.6 690.7 319.4 692.2 319.3 693.7 319.2 695.2 319.1 696.7 319.0 698.2 318.9 699.7 318.8 701.2 318.6 702.7 318.5 704.2 318.4 705.7 318.3 707.2 318.2 708.7 318.1 710.2 318.1 711.7 318.0 713.2 317.9 714.7 317.8 716.2 317.7 717.7 317.7 719.2 317.6 720.7 317.5 722.2 317.5 723.7 317.4 725.2 317.4 726.7 317.3 728.2 317.3 729.7 317.3 731.2 317.2 732.7 317.2 734.2 317.2 735.7 317.2 737.2 317.2 738.7 317.2 740.2 317.2 741.7 317.2 743.2 317.2 744.7 317.2 746.2 317.2 747.7 317.2 749.2 317.2 750.7 317.2 752.2 317.2 753.7 317.3 755.2 317.3 756.7 317.3 758.2 317.4 759.7 317.4 761.2 317.5 762.7 317.5 764.2 317.6 765.7 317.6 767.2 317.7 768.7 317.7 770.2 317.8 771.7 317.9 773.2 317.9 774.7 318.0 776.2 318.1 777.7 318.1 779.2 318.2 780.7 318.3 782.2 318.4 783.7 318.4 785.2 318.5 786.7 318.6 788.2 318.7 789.7 318.7 791.2 318.8 792.7 318.9 794.2 319.0 795.7 319.1 797.2 319.1 798.7 319.2 800.2 319.3 801.7 319.4 803.2 319.5 804.7 319.6 806.2 319.6 807.7 319.7 809.2 319.8 810.7 319.9 812.2 320.0 813.7 320.0 815.2 320.1 816.7 320.2 818.2 320.3 819.7 320.3 821.2 320.4 822.7 320.5 824.2 320.5 825.7 320.6 827.2 320.6 828.7 320.7 830.2 320.7 831.7 320.8 833.2 320.8 834.7 320.9 836.2 320.9 837.7 321.0 839.2 321.0 840.7 321.1 842.2 321.1 843.7 321.2 845.2 321.2 846.7 321.2 848.2 321.3 849.7 321.3 851.2 321.3 852.7 321.4 854.2 321.4 855.7 321.4 857.2 321.4 858.7 321.5 860.2 321.5 861.7 321.5 863.2 321.5 864.7 321.5 866.2 321.6 867.7 321.6 869.2 321.6 870.7 321.6 872.2 321.6 873.7 321.6 875.2 321.6 876.7 321.6 878.2 321.6 879.7 321.6 881.2 321.6 882.7 321.6 884.2 321.6 885.7 321.6 887.2 321.6 888.7 321.5 890.2 321.5 891.7 321.5 893.2 321.5 894.7 321.5 896.2 321.5 897.7 321.4 899.2 321.4 900.7 321.4 902.2 321.4 903.7 321.4 905.2 321.4 906.7 321.3 908.2 321.3 909.7 321.3 911.2 321.3 912.7 321.3 914.2 321.3 915.7 321.2 917.2 321.2 918.7 321.2 920.2 321.2 921.7 321.2 923.2 321.2 924.7 321.2 926.2 321.2 927.7 321.1 929.2 321.1 930.7 321.1 932.2 321.1 933.7 321.1 935.2 321.1 936.7 321.1 938.2 321.1 939.7 321.0 941.2 321.0 942.7 321.0 944.2 321.0 945.7 321.0 947.2 321.0 948.7 321.0 950.2 321.0 951.7 320.9 953.2 320.9 954.7 320.9 956.2 320.9 957.7 320.9 959.2 320.9 960.7 320.9 962.2 320.9 963.7 320.9 965.2 320.8 966.7 320.8 968.2 320.8 969.7 320.8 971.2 320.8 972.7 320.8 974.2 320.8 975.7 320.8 977.2 320.8 978.7 320.7 980.2 320.7 981.7 320.7 983.2 320.7 983.5 320.7" stroke="#bf00bf"/>
<path d="M100.4 158.6 100.5 157.8 100.6 156.9 100.7 156.0 100.8 154.9 100.9 154.2 101.0 153.4 101.1 152.6 101.2 151.9 101.3 151.1 101.4 150.3 101.5 149.6 101.6 148.6 101.8 147.6 101.9 146.7 102.1 145.8 102.3 144.8 102.4 143.9 102.6 143.0 102.8 142.1 103.0 141.1 103.2 140.2 103.4 139.3 103.6 138.4 103.8 137.4 104.0 136.5 104.2 135.6 104.4 134.6 104.7 133.7 104.9 132.8 105.1 131.9 105.3 130.9 105.5 130.0 105.7 129.1 105.9 128.1 106.1 127.2 106.2 126.2 106.4 125.3 106.6 124.3 106.8 123.4 107.0 122.5 107.2 121.6 107.4 120.8 107.7 120.0 107.9 119.1 108.2 118.3 108.6 117.5 108.9 116.7 109.2 116.0 109.5 115.2 109.8 114.6 110.2 113.8 110.6 113.1 110.9 112.4 111.4 111.7 111.8 111.1 112.3 110.5 112.8 110.0 113.4 109.4 113.9 109.0 114.6 108.6 115.3 108.3 116.1 108.1 116.8 108.1 117.5 108.1 118.2 108.2 118.9 108.6 119.4 109.1 120.1 109.7 120.6 110.2 121.2 110.7 121.7 111.3 122.2 111.9 122.6 112.4 123.1 113.0 123.5 113.7 123.8 114.3 124.2 115.0 124.6 115.7 125.0 116.5 125.4 117.3 125.7 118.0 126.0 118.7 126.3 119.5 126.6 120.3 126.9 121.1 127.2 121.9 127.5 122.6 127.8 123.4 128.0 124.1 128.4 124.9 128.6 125.7 128.9 126.4 129.2 127.2 129.5 128.0 129.7 128.7 130.0 129.5 130.2 130.2 130.5 131.0 130.7 131.8 130.9 132.6 131.1 133.4 131.4 134.2 131.6 135.1 131.8 135.9 132.0 136.7 132.3 137.5 132.5 138.3 132.7 139.2 133.0 140.1 133.2 140.9 133.4 141.7 133.6 142.5 133.9 143.3 134.1 144.1 134.3 144.9 134.5 145.7 134.7 146.4 134.9 147.2 135.1 148.0 135.3 148.9 135.5 149.7 135.7 150.6 136.0 151.5 136.2 152.4 136.4 153.4 136.6 154.4 136.9 155.3 137.1 156.3 137.3 157.2 137.5 158.1 137.7 159.0 137.9 159.8 138.1 160.6 138.4 161.5 138.6 162.3 138.8 163.2 139.1 164.1 139.3 164.9 139.5 165.7 139.7 166.7 139.9 167.4 140.0 168.2 140.2 169.0 140.4 169.9 140.6 170.8 140.7 171.7 140.9 172.6 141.1 173.6 141.3 174.6 141.5 175.5 141.7 176.5 141.9 177.4 142.0 178.3 142.2 179.2 142.4 180.0 142.6 180.8 142.7 181.6 142.9 182.4 143.1 183.2 143.2 183.9 143.4 184.7 143.5 185.4 143.7 186.1 143.8 186.9 144.0 187.6 144.2 188.3 144.3 189.0 144.5 189.7 144.6 190.4 144.8 191.1 145.0 191.8 145.2 192.8 145.5 193.8 145.8 194.8 146.0 195.8 146.3 196.7 146.6 197.7 146.8 198.6 147.1 199.6 147.3 200.5 147.6 201.4 147.8 202.3 148.0 203.1 148.2 203.9 148.4 204.6 148.6 205.4 148.8 206.3 149.0 207.2 149.2 208.1 149.4 209.1 149.6 209.9 149.7 210.6 149.9 211.4 150.1 212.2 150.2 213.1 150.4 213.9 150.6 214.8 150.8 215.7 151.0 216.7 151.1 217.6 151.3 218.5 151.5 219.5 151.8 220.5 152.0 221.5 152.2 222.5 152.4 223.5 152.7 224.6 152.9 225.8 153.2 227.0 153.5 228.2 153.8 229.5 154.1 230.8 154.4 232.1 154.7 233.3 155.0 234.5 155.3 235.7 155.6 236.8 155.9 237.8 156.1 238.8 156.3 239.6 156.5 240.3 156.7 241.1 156.9 241.8 157.2 242.6 157.5 243.5 157.7 244.2 157.9 245.1 158.2 246.1 158.5 247.3 158.9 248.6 159.1 249.3 159.3 250.0 159.5 250.7 159.7 251.4 159.9 252.2 160.1 253.0 160.3 253.8 160.5 254.6 160.7 255.4 161.0 256.2 161.2 257.1 161.4 257.9 161.6 258.7 161.9 259.6 162.1 260.4 162.3 261.2 162.5 262.1 162.8 262.9 163.0 263.7 163.2 264.5 163.4 265.3 163.6 266.0 163.8 266.8 164.0 267.5 164.2 268.3 164.4 269.0 164.6 269.8 164.8 270.5 165.0 271.3 165.2 272.0 165.4 272.8 165.6 273.5 165.8 274.3 166.0 275.0 166.2 275.8 166.4 276.5 166.6 277.3 166.8 278.0 167.0 278.8 167.1 279.5 167.3 280.3 167.5 281.0 167.7 281.8 167.9 282.5 168.1 283.3 168.3 284.0 168.5 284.7 168.7 285.5 168.9 286.2 169.1 286.9 169.3 287.7 169.5 288.4 169.7 289.1 169.9 289.8 170.1 290.5 170.3 291.3 170.5 292.0 170.7 292.7 170.9 293.4 171.1 294.1 171.3 294.8 171.5 295.6 171.7 296.3 171.9 297.0 172.1 297.7 172.3 298.4 172.4 299.1 172.6 299.8 172.8 300.5 173.0 301.2 173.2 301.9 173.4 302.6 173.6 303.3 173.8 303.9 174.0 304.6 174.4 306.0 174.8 307.3 175.2 308.6 175.6 309.9 176.0 311.2 176.4 312.4 176.7 313.5 177.1 314.7 177.5 315.8 177.8 316.9 178.2 318.1 178.6 319.2 179.0 320.3 179.4 321.4 179.8 322.6 180.2 323.7 180.6 324.9 181.1 326.2 181.6 327.5 181.9 328.2 182.1 328.9 182.4 329.6 182.7 330.3 182.9 331.0 183.2 331.7 183.5 332.5 183.8 333.2 184.1 334.0 184.4 334.8 184.7 335.5 185.0 336.3 186.7 340.4 188.2 344.1 189.7 347.6 191.2 350.9 192.7 354.2 194.2 357.4 195.7 360.4 197.2 363.2 198.7 365.8 200.2 368.2 201.7 370.4 203.2 372.5 204.7 374.5 206.2 376.4 207.7 378.2 209.2 380.0 210.7 381.8 212.2 383.5 213.7 385.2 215.2 386.7 216.7 388.2 218.2 389.6 219.7 390.9 221.2 392.1 222.7 393.1 224.2 394.1 225.7 395.0 227.2 395.7 228.7 396.4 230.2 397.0 231.7 397.5 233.2 397.9 234.7 398.2 236.2 398.4 237.7 398.5 239.2 398.5 240.7 398.4 242.2 398.2 243.7 397.9 245.2 397.6 246.7 397.2 248.2 396.7 249.7 396.2 251.2 395.6 252.7 395.0 254.2 394.3 255.7 393.6 257.1 392.8 258.6 391.9 260.1 391.0 261.6 390.1 263.1 389.1 264.6 388.1 266.1 387.0 267.6 385.9 269.1 384.7 270.6 383.6 272.1 382.3 273.6 381.0 275.1 379.6 276.6 378.2 278.1 376.7 279.6 375.1 281.1 373.5 282.6 371.8 284.1 370.1 285.6 368.3 287.1 366.5 288.6 364.7 290.1 362.9 291.6 361.1 293.1 359.3 294.6 357.5 296.1 355.8 297.6 354.0 299.1 352.3 300.6 350.6 302.1 348.9 303.6 347.2 305.1 345.4 306.6 343.6 308.1 341.8 309.6 340.0 311.1 338.2 312.6 336.4 314.1 334.7 315.6 333.0 317.1 331.3 318.6 329.6 320.1 327.9 321.6 326.3 323.1 324.6 324.6 323.0 326.1 321.3 327.6 319.7 329.1 318.1 330.6 316.6 332.1 315.1 333.6 313.6 335.1 312.3 336.6 310.9 338.1 309.7 339.6 308.5 341.1 307.3 342.6 306.3 344.1 305.3 345.6 304.3 347.1 303.4 348.6 302.4 350.1 301.5 351.6 300.6 353.1 299.7 354.6 298.9 356.1 298.0 357.6 297.2 359.1 296.4 360.6 295.7 362.1 295.1 363.6 294.5 365.1 294.0 366.6 293.5 368.1 293.0 369.6 292.6 371.1 292.3 372.6 291.9 374.1 291.6 375.6 291.4 377.1 291.2 378.6 291.0 380.1 290.8 381.6 290.7 383.1 290.7 384.6 290.6 386.1 290.6 387.6 290.6 389.1 290.7 390.6 290.8 392.1 290.9 393.6 291.1 395.1 291.3 396.6 291.5 398.1 291.8 399.6 292.1 401.1 292.4 402.6 292.7 404.1 293.1 405.6 293.4 407.1 293.8 408.6 294.2 410.1 294.7 411.6 295.1 413.1 295.6 414.6 296.2 416.1 296.7 417.6 297.3 419.1 297.9 420.6 298.5 422.1 299.1 423.6 299.8 425.1 300.5 426.6 301.1 428.1 301.8 429.6 302.6 431.1 303.3 432.6 304.0 434.1 304.8 435.6 305.5 437.1 306.3 438.6 307.0 440.1 307.8 441.6 308.5 443.1 309.2 444.6 309.9 446.1 310.6 447.6 311.3 449.1 312.0 450.6 312.7 452.1 313.3 453.6 314.0 455.1 314.7 456.6 315.3 458.1 315.9 459.6 316.5 461.1 317.2 462.6 317.8 464.1 318.4 465.6 318.9 467.1 319.5 468.6 320.1 470.1 320.7 471.6 321.3 473.1 321.8 474.6 322.4 476.1 322.9 477.6 323.5 479.1 324.0 480.6 324.5 482.1 325.0 483.6 325.5 485.1 326.0 486.6 326.5 488.1 326.9 489.6 327.3 491.1 327.7 492.6 328.1 494.1 328.5 495.6 328.8 497.1 329.2 498.6 329.5 500.1 329.8 501.6 330.1 503.1 330.4 504.6 330.6 506.1 330.9 507.6 331.1 509.1 331.3 510.6 331.5 512.1 331.6 513.6 331.8 515.1 331.9 516.6 332.1 518.1 332.2 519.6 332.3 521.1 332.4 522.6 332.5 524.1 332.6 525.6 332.6 527.1 332.7 528.6 332.7 530.1 332.7 531.6 332.8 533.1 332.8 534.6 332.7 536.1 332.7 537.6 332.7 539.1 332.6 540.6 332.6 542.1 332.5 543.6 332.4 545.1 332.3 546.6 332.1 548.1 332.0 549.6 331.8 551.1 331.6 552.6 331.4 554.1 331.2 555.6 331.0 557.1 330.7 558.6 330.5 560.1 330.2 561.6 330.0 563.1 329.7 564.6 329.5 566.1 329.2 567.6 329.0 569.1 328.7 570.6 328.5 572.1 328.2 573.6 327.9 575.1 327.7 576.6 327.4 578.1 327.1 579.6 326.9 581.1 326.6 582.6 326.3 584.1 326.0 585.6 325.8 587.1 325.5 588.6 325.2 590.1 325.0 591.6 324.7 593.1 324.5 594.6 324.2 596.1 323.9 597.6 323.7 599.1 323.4 600.6 323.2 602.1 322.9 603.6 322.7 605.1 322.5 606.6 322.3 608.1 322.0 609.6 321.8 611.1 321.6 612.6 321.4 614.1 321.2 615.6 321.0 617.1 320.8 618.6 320.6 620.1 320.4 621.6 320.2 623.1 320.0 624.6 319.8 626.1 319.6 627.6 319.4 629.1 319.3 630.6 319.1 632.1 318.9 633.6 318.7 635.1 318.6 636.6 318.4 638.1 318.3 639.6 318.1 641.1 318.0 642.6 317.9 644.1 317.8 645.6 317.7 647.1 317.6 648.6 317.5 650.1 317.4 651.6 317.3 653.1 317.2 654.6 317.1 656.1 317.0 657.6 316.9 659.1 316.9 660.6 316.8 662.1 316.7 663.6 316.7 665.1 316.7 666.6 316.6 668.1 316.6 669.6 316.6 671.1 316.6 672.6 316.6 674.1 316.6 675.6 316.6 677.1 316.6 678.6 316.6 680.1 316.6 681.6 316.6 683.1 316.7 684.6 316.7 686.1 316.7 687.6 316.7 689.1 316.8 690.6 316.8 692.1 316.8 693.6 316.9 695.1 316.9 696.6 317.0 698.1 317.0 699.6 317.0 701.1 317.1 702.6 317.1 704.1 317.2 705.6 317.2 707.1 317.3 708.6 317.3 710.1 317.4 711.6 317.5 713.1 317.5 714.6 317.6 716.1 317.6 717.6 317.7 719.1 317.7 720.6 317.8 722.1 317.8 723.6 317.9 725.1 317.9 726.6 318.0 728.1 318.1 729.6 318.1 731.1 318.2 732.6 318.2 734.1 318.3 735.6 318.3 737.1 318.4 738.6 318.4 740.1 318.5 741.6 318.6 743.1 318.6 744.6 318.7 746.1 318.8 747.6 318.8 749.1 318.9 750.6 319.0 752.1 319.1 753.6 319.2 755.1 319.2 756.6 319.3 758.1 319.4 759.6 319.5 761.1 319.6 762.6 319.7 764.1 319.9 765.6 320.0 767.1 320.1 768.6 320.2 770.1 320.3 771.6 320.4 773.1 320.5 774.6 320.5 776.1 320.6 777.6 320.7 779.1 320.8 780.6 320.9 782.1 320.9 783.6 321.0 785.1 321.1 786.6 321.1 788.1 321.2 789.6 321.3 791.1 321.3 792.6 321.4 794.1 321.4 795.6 321.5 797.1 321.6 798.6 321.6 800.1 321.7 801.6 321.7 803.1 321.8 804.6 321.8 806.1 321.9 807.6 321.9 809.1 322.0 810.6 322.0 812.1 322.0 813.6 322.1 815.1 322.1 816.6 322.1 818.1 322.2 819.6 322.2 821.1 322.2 822.6 322.2 824.1 322.3 825.6 322.3 827.1 322.3 828.6 322.3 830.1 322.3 831.6 322.3 833.1 322.3 834.6 322.3 836.1 322.3 837.6 322.3 839.1 322.2 840.6 322.2 842.1 322.2 843.6 322.2 845.1 322.1 846.6 322.1 848.1 322.1 849.6 322.1 851.1 322.0 852.6 322.0 854.1 322.0 855.6 321.9 857.1 321.9 858.6 321.8 860.1 321.8 861.6 321.8 863.1 321.7 864.6 321.7 866.1 321.7 867.6 321.6 869.1 321.6 870.6 321.6 872.1 321.6 873.6 321.5 875.1 321.5 876.6 321.5 878.1 321.4 879.6 321.4 881.1 321.4 882.6 321.3 884.1 321.3 885.6 321.2 887.1 321.2 888.6 321.2 890.1 321.1 891.6 321.1 893.1 321.1 894.6 321.0 896.1 321.0 897.6 321.0 899.1 320.9 900.6 320.9 902.1 320.9 903.6 320.8 905.1 320.8 906.6 320.8 908.1 320.8 909.6 320.7 911.1 320.7 912.6 320.7 914.1 320.7 915.6 320.7 917.1 320.6 918.6 320.6 920.1 320.6 921.6 320.6 923.1 320.6 924.6 320.6 926.1 320.6 927.6 320.6 929.1 320.6 930.6 320.6 932.1 320.6 933.6 320.6 935.1 320.6 936.6 320.6 938.1 320.6 939.6 320.6 941.1 320.6 942.6 320.6 944.1 320.6 945.6 320.6 947.1 320.6 948.6 320.6 950.1 320.6 951.6 320.6 953.1 320.6 954.6 320.6 956.1 320.6 957.6 320.6 959.1 320.6 960.6 320.6 962.1 320.6 963.6 320.6 965.1 320.6 966.6 320.6 968.1 320.6 969.6 320.6 971.1 320.7 972.6 320.7 974.1 320.7 975.6 320.7 977.1 320.7 978.6 320.7 980.1 320.7 981.6 320.7 983.1 320.7 983.4 320.7" stroke="#bfbf00"/>
<path d="M100.2 249.0 100.3 249.9 100.5 250.8 100.6 251.9 100.7 252.7 100.8 253.5 101.0 254.3 101.1 255.1 101.2 256.0 101.3 256.9 101.4 257.7 101.6 258.5 101.7 259.3 101.8 260.0 102.0 261.0 102.1 262.0 102.3 262.9 102.4 263.8 102.6 264.8 102.7 265.7 102.9 266.7 103.1 267.7 103.2 268.4 103.4 269.2 103.5 270.0 103.7 270.9 103.8 271.7 104.0 272.7 104.2 273.6 104.4 274.6 104.5 275.6 104.7 276.7 104.9 277.7 105.1 278.8 105.3 279.8 105.5 280.9 105.7 281.9 105.9 283.0 106.1 284.0 106.3 285.0 106.5 286.0 106.7 287.0 106.9 288.1 107.1 289.1 107.3 290.2 107.4 291.2 107.6 292.3 107.8 293.3 108.0 294.3 108.2 295.4 108.4 296.3 108.6 297.3 108.8 298.2 108.9 299.1 109.1 300.0 109.3 300.8 109.4 301.6 109.6 302.4 109.7 303.1 109.9 303.8 110.1 304.8 110.4 305.7 110.6 306.7 110.8 307.6 111.0 308.6 111.2 309.5 111.5 310.5 111.7 311.5 111.9 312.5 112.1 313.4 112.3 314.3 112.5 315.3 112.8 316.2 113.0 317.2 113.2 318.2 113.4 318.9 113.6 319.6 113.8 320.4 114.0 321.1 114.2 321.8 114.4 322.6 114.7 323.3 114.9 324.1 115.1 324.9 115.4 325.7 115.6 326.5 115.9 327.3 116.1 328.1 116.4 329.0 116.7 329.9 117.0 330.8 117.3 331.8 117.5 332.8 117.9 333.9 118.2 335.0 118.5 336.2 118.9 337.4 119.2 338.7 119.6 339.9 120.0 341.2 120.3 342.5 120.7 343.8 121.1 345.0 121.4 346.2 121.7 347.4 122.1 348.5 122.4 349.5 122.6 350.5 122.9 351.3 123.1 352.1 123.3 352.9 123.5 353.6 123.8 354.5 124.1 355.5 124.4 356.4 124.6 357.4 124.8 358.1 125.1 358.9 125.3 359.7 125.6 360.6 125.8 361.6 126.2 362.7 126.5 363.8 126.8 365.1 127.2 366.3 127.5 367.6 127.9 369.0 128.3 370.3 128.7 371.7 129.1 373.0 129.4 374.4 129.8 375.7 130.2 377.0 130.5 378.2 130.8 379.4 131.2 380.6 131.4 381.7 131.7 382.7 132.0 383.8 132.3 384.8 132.5 385.8 132.8 386.8 133.0 387.7 133.3 388.7 133.5 389.7 133.8 390.6 134.0 391.6 134.3 392.5 134.5 393.5 134.8 394.5 135.0 395.5 135.3 396.5 135.5 397.4 135.8 398.4 136.1 399.3 136.3 400.3 136.6 401.2 136.8 402.2 137.1 403.2 137.3 404.1 137.6 405.1 137.9 406.2 138.2 407.2 138.5 408.3 138.7 409.4 139.1 410.6 139.4 411.8 139.7 413.1 140.1 414.4 140.4 415.8 140.6 416.5 140.8 417.2 141.0 417.9 141.2 418.6 141.3 419.3 141.5 420.0 141.7 420.7 141.9 421.4 142.1 422.1 142.3 422.8 142.4 423.5 142.6 424.2 142.8 424.9 143.1 426.2 143.5 427.5 143.8 428.8 144.1 430.0 144.4 431.1 144.7 432.3 144.9 433.3 145.2 434.4 145.4 435.4 145.6 436.4 145.9 437.3 146.1 438.3 146.3 439.2 146.5 440.2 146.7 441.1 146.9 442.1 147.2 443.0 147.4 444.0 147.6 445.0 147.8 446.0 148.0 447.0 148.3 447.9 148.5 448.9 148.7 449.8 148.9 450.8 149.1 451.7 149.3 452.7 149.6 453.6 149.8 454.6 150.2 456.5 151.7 463.1 153.2 469.6 154.7 476.1 156.2 482.6 157.7 489.3 159.2 495.9 160.7 502.5 162.2 509.1 163.7 515.5 165.2 521.9 166.7 528.4 168.2 534.9 169.7 541.0 171.2 547.0 172.7 552.9 174.2 558.7 175.7 564.4 177.2 570.0 178.7 575.5 180.2 580.7 181.7 585.8 183.2 590.7 184.7 595.2 186.2 599.5 187.7 603.5 189.2 607.2 190.7 610.6 192.2 613.9 193.7 616.9 195.2 619.8 196.7 622.6 198.2 625.2 199.7 627.7 201.2 630.0 202.7 632.1 204.2 634.0 205.7 635.8 207.2 637.4 208.7 638.9 210.2 640.1 211.7 641.3 213.2 642.2 214.7 643.1 216.2 643.7 217.7 644.3 219.2 644.7 220.7 645.0 222.2 645.2 223.7 645.3 225.2 645.2 226.7 645.0 228.2 644.7 229.7 644.3 231.2 643.8 232.7 643.1 234.2 642.3 235.7 641.4 237.2 640.4 238.7 639.4 240.2 638.3 241.7 637.1 243.2 636.0 244.7 634.8 246.2 633.6 247.7 632.3 249.2 631.0 250.7 629.6 252.2 628.2 253.7 626.7 255.2 625.1 256.7 623.5 258.2 621.8 259.7 620.0 261.2 618.1 262.7 616.3 264.2 614.3 265.7 612.4 267.2 610.4 268.7 608.4 270.2 606.4 271.7 604.4 273.2 602.4 274.7 600.5 276.2 598.5 277.7 596.5 279.2 594.6 280.7 592.7 282.2 590.8 283.7 588.9 285.2 587.1 286.7 585.3 288.2 583.5 289.7 581.7 291.2 580.0 292.7 578.3 294.2 576.6 295.7 574.9 297.2 573.2 298.7 571.6 300.2 570.0 301.7 568.5 303.2 566.9 304.7 565.5 306.2 564.0 307.7 562.6 309.2 561.2 310.7 559.9 312.2 558.6 313.7 557.3 315.2 556.1 316.7 554.9 318.2 553.8 319.7 552.6 321.2 551.5 322.7 550.5 324.2 549.4 325.7 548.4 327.2 547.4 328.7 546.5 330.2 545.6 331.7 544.7 333.2 543.8 334.7 543.0 336.2 542.3 337.7 541.5 339.2 540.8 340.7 540.2 342.2 539.5 343.7 538.9 345.2 538.4 346.7 537.9 348.2 537.4 349.7 536.9 351.2 536.4 352.7 536.0 354.2 535.6 355.7 535.3 357.2 535.0 358.7 534.7 360.2 534.4 361.7 534.1 363.2 533.9 364.7 533.7 366.2 533.5 367.7 533.4 369.2 533.3 370.7 533.3 372.2 533.3 373.7 533.3 375.2 533.4 376.7 533.5 378.2 533.6 379.7 533.8 381.2 533.9 382.7 534.2 384.2 534.4 385.7 534.7 387.2 535.0 388.7 535.4 390.2 535.8 391.7 536.2 393.2 536.7 394.7 537.2 396.2 537.7 397.7 538.3 399.2 538.8 400.7 539.4 402.2 540.0 403.7 540.6 405.2 541.3 406.7 541.9 408.2 542.6 409.7 543.3 411.2 543.9 412.7 544.6 414.2 545.3 415.7 546.1 417.2 546.8 418.7 547.5 420.2 548.2 421.7 549.0 423.2 549.7 424.7 550.5 426.2 551.3 427.7 552.0 429.2 552.8 430.7 553.6 432.2 554.3 433.7 555.1 435.2 555.8 436.7 556.6 438.2 557.4 439.7 558.1 441.2 558.9 442.7 559.6 444.2 560.3 445.7 561.0 447.2 561.6 448.7 562.3 450.2 562.9 451.7 563.5 453.2 564.1 454.7 564.7 456.2 565.2 457.7 565.8 459.2 566.3 460.7 566.8 462.2 567.3 463.7 567.8 465.2 568.3 466.7 568.8 468.2 569.2 469.7 569.6 471.2 570.0 472.7 570.4 474.2 570.8 475.7 571.1 477.2 571.4 478.7 571.7 480.2 572.0 481.7 572.3 483.2 572.5 484.7 572.7 486.2 572.9 487.7 573.1 489.2 573.3 490.7 573.5 492.2 573.7 493.7 573.8 495.2 574.0 496.7 574.1 498.2 574.3 499.7 574.4 501.2 574.5 502.7 574.6 504.2 574.6 505.7 574.6 507.2 574.6 508.7 574.6 510.2 574.5 511.7 574.4 513.2 574.3 514.7 574.2 516.2 574.1 517.7 573.9 519.2 573.7 520.7 573.5 522.2 573.3 523.7 573.1 525.2 572.9 526.7 572.7 528.2 572.5 529.7 572.3 531.2 572.1 532.7 571.9 534.2 571.7 535.7 571.5 537.2 571.2 538.7 571.0 540.2 570.8 541.7 570.6 543.2 570.4 544.7 570.2 546.2 569.9 547.7 569.7 549.2 569.5 550.7 569.3 552.2 569.0 553.7 568.8 555.2 568.6 556.7 568.3 558.2 568.1 559.7 567.8 561.2 567.6 562.7 567.3 564.2 567.1 565.7 566.8 567.2 566.5 568.7 566.2 570.2 566.0 571.7 565.7 573.2 565.4 574.7 565.1 576.2 564.8 577.7 564.6 579.2 564.3 580.7 564.0 582.2 563.8 583.7 563.5 585.2 563.3 586.7 563.1 588.2 562.8 589.7 562.6 591.2 562.4 592.7 562.2 594.2 562.0 595.7 561.8 597.2 561.6 598.7 561.5 600.2 561.3 601.7 561.1 603.2 561.0 604.7 560.8 606.2 560.6 607.7 560.5 609.2 560.3 610.7 560.2 612.2 560.1 613.7 559.9 615.2 559.8 616.7 559.7 618.2 559.6 619.7 559.6 621.2 559.5 622.7 559.4 624.2 559.4 625.7 559.3 627.2 559.3 628.7 559.2 630.2 559.2 631.7 559.1 633.2 559.1 634.7 559.0 636.2 559.0 637.7 559.0 639.2 558.9 640.7 558.9 642.2 558.9 643.7 558.9 645.2 558.8 646.7 558.8 648.2 558.8 649.7 558.8 651.2 558.8 652.7 558.8 654.2 558.8 655.7 558.9 657.2 558.9 658.7 558.9 660.2 558.9 661.7 559.0 663.2 559.0 664.7 559.0 666.2 559.1 667.7 559.1 669.2 559.2 670.7 559.2 672.2 559.3 673.7 559.3 675.2 559.4 676.7 559.4 678.2 559.5 679.7 559.5 681.2 559.6 682.7 559.7 684.2 559.8 685.7 559.8 687.2 559.9 688.7 560.0 690.2 560.1 691.7 560.2 693.2 560.3 694.7 560.4 696.2 560.4 697.7 560.5 699.2 560.6 700.7 560.7 702.2 560.8 703.7 560.9 705.2 561.0 706.7 561.1 708.2 561.3 709.7 561.4 711.2 561.5 712.7 561.6 714.2 561.7 715.7 561.8 717.2 561.9 718.7 562.0 720.2 562.1 721.7 562.2 723.2 562.3 724.7 562.4 726.2 562.5 727.7 562.6 729.2 562.7 730.7 562.8 732.2 562.9 733.7 563.0 735.2 563.0 736.7 563.1 738.2 563.2 739.7 563.2 741.2 563.3 742.7 563.4 744.2 563.4 745.7 563.5 747.2 563.5 748.7 563.6 750.2 563.6 751.7 563.7 753.2 563.7 754.7 563.8 756.2 563.8 757.7 563.8 759.2 563.9 760.7 563.9 762.2 563.9 763.7 564.0 765.2 564.0 766.7 564.0 768.2 564.0 769.7 564.1 771.2 564.1 772.7 564.1 774.2 564.1 775.7 564.1 777.2 564.2 778.7 564.2 780.2 564.2 781.7 564.2 783.2 564.2 784.7 564.2 786.2 564.2 787.7 564.2 789.2 564.2 790.7 564.2 792.2 564.2 793.7 564.2 795.2 564.2 796.7 564.2 798.2 564.2 799.7 564.2 801.2 564.2 802.7 564.2 804.2 564.1 805.7 564.1 807.2 564.1 808.7 564.1 810.2 564.1 811.7 564.1 813.2 564.1 814.7 564.0 816.2 564.0 817.7 564.0 819.2 564.0 820.7 564.0 822.2 564.0 823.7 564.0 825.2 563.9 826.7 563.9 828.2 563.9 829.7 563.9 831.2 563.9 832.7 563.9 834.2 563.9 835.7 563.9 837.2 563.8 838.7 563.8 840.2 563.8 841.7 563.8 843.2 563.8 844.7 563.8 846.2 563.8 847.7 563.7 849.2 563.7 850.7 563.7 852.2 563.7 853.7 563.7 855.2 563.7 856.7 563.6 858.2 563.6 859.7 563.6 861.2 563.6 862.7 563.6 864.2 563.6 865.7 563.6 867.2 563.5 868.7 563.5 870.2 563.5 871.7 563.5 873.2 563.5 874.7 563.5 876.2 563.5 877.7 563.4 879.2 563.4 880.7 563.4 882.2 563.4 883.7 563.4 885.2 563.4 886.7 563.4 888.2 563.4 889.7 563.4 891.2 563.3 892.7 563.3 894.2 563.3 895.7 563.3 897.2 563.3 898.7 563.3 900.2 563.3 901.7 563.3 903.2 563.3 904.7 563.3 906.2 563.3 907.7 563.3 909.2 563.3 910.7 563.3 912.2 563.3 913.7 563.3 915.2 563.3 916.7 563.3 918.2 563.3 919.7 563.3 921.2 563.3 922.7 563.3 924.2 563.3 925.7 563.3 927.2 563.3 928.7 563.3 930.2 563.3 931.7 563.3 933.2 563.3 934.7 563.3 936.2 563.3 937.7 563.3 939.2 563.3 940.7 563.3 942.2 563.3 943.7 563.3 945.2 563.3 946.7 563.3 948.2 563.3 949.7 563.3 951.2 563.3 952.7 563.3 954.2 563.3 955.7 563.3 957.2 563.3 958.7 563.3 960.2 563.3 961.7 563.3 963.2 563.3 964.7 563.3 966.2 563.3 967.7 563.3 969.2 563.3 970.7 563.3 972.2 563.3 973.7 563.3 975.2 563.3 976.7 563.3 978.2 563.3 979.7 563.3 981.2 563.3 982.7 563.3 983.5 563.3" stroke="#404040"/>
<path d="M100.4 342.6 100.4 343.7 100.5 345.1 100.5 345.8 100.5 346.6 100.5 347.5 100.6 348.4 100.6 349.3 100.6 350.3 100.7 351.3 100.7 352.3 100.7 353.4 100.8 354.5 100.8 355.5 100.8 356.7 100.9 357.8 100.9 358.9 100.9 360.1 101.0 361.2 101.0 362.4 101.0 363.5 101.1 364.6 101.1 365.7 101.1 366.8 101.2 367.9 101.2 369.0 101.2 370.0 101.3 371.0 101.3 372.0 101.3 373.0 101.4 373.9 101.4 374.9 101.4 375.9 101.4 376.9 101.5 377.8 101.5 378.8 101.5 379.8 101.6 380.8 101.6 381.8 101.6 382.8 101.6 383.7 101.7 384.7 101.7 385.7 101.7 386.6 101.8 387.6 101.8 388.6 101.8 389.5 101.8 390.5 101.9 391.4 101.9 392.3 101.9 393.2 102.0 394.1 102.0 395.0 102.0 395.9 102.1 396.7 102.1 397.6 102.1 398.4 102.2 399.2 102.2 400.0 102.2 400.8 102.3 401.5 102.3 402.3 102.3 403.0 102.4 404.3 102.5 405.7 102.6 406.9 102.6 408.2 102.7 409.3 102.8 410.5 102.9 411.7 103.0 412.9 103.1 414.0 103.1 415.2 103.2 416.4 103.3 417.7 103.4 419.0 103.5 420.3 103.6 421.6 103.7 422.8 103.7 424.0 103.8 425.3 103.9 426.5 104.0 427.7 104.1 429.0 104.2 430.3 104.3 431.7 104.3 432.5 104.4 433.2 104.4 434.0 104.5 434.7 104.6 435.5 104.6 436.4 104.7 437.2 104.8 438.1 104.8 439.0 104.9 440.0 105.0 441.0 105.1 442.0 105.1 443.1 105.2 444.1 105.3 445.3 105.4 446.4 105.5 447.6 105.6 448.7 105.7 449.9 105.8 451.2 105.9 452.4 106.0 453.7 106.1 455.0 106.2 456.2 106.3 457.5 106.4 458.8 106.5 460.2 106.6 461.5 106.7 462.8 106.8 464.1 106.9 465.5 107.0 466.8 107.1 468.1 107.2 469.4 107.3 470.7 107.5 472.0 107.6 473.3 107.7 474.6 107.8 475.9 107.9 477.1 108.0 478.3 108.1 479.6 108.2 480.8 108.3 482.0 108.5 483.2 108.6 484.3 108.7 485.5 108.8 486.7 108.9 487.9 109.0 489.0 109.1 490.2 109.3 491.4 109.4 492.6 109.5 493.7 109.6 494.9 109.7 496.1 109.9 497.3 110.0 498.5 110.1 499.8 110.2 501.0 110.4 502.2 110.5 503.5 110.6 504.8 110.8 506.1 110.9 507.4 111.0 508.7 111.2 510.1 111.3 511.5 111.5 512.9 111.6 514.3 111.7 515.8 111.9 517.3 112.0 518.8 112.2 520.4 112.4 522.0 112.5 523.6 112.7 525.3 112.8 526.9 113.0 528.6 113.2 530.3 113.3 532.1 113.5 533.8 113.7 535.6 113.9 537.3 114.0 539.1 114.2 540.8 114.4 542.6 114.5 544.3 114.7 546.0 114.9 547.8 115.1 549.5 115.2 551.2 115.4 552.8 115.6 554.5 115.8 556.1 115.9 557.7 116.1 559.3 116.3 560.8 116.4 562.3 116.6 563.8 116.8 565.2 116.9 566.6 117.1 568.0 117.3 569.4 117.4 570.7 117.6 572.0 117.7 573.3 117.9 574.6 118.1 575.9 118.2 577.1 118.4 578.4 118.6 579.6 118.7 580.8 118.9 582.0 119.0 583.2 119.2 584.4 119.4 585.6 119.5 586.7 119.7 587.9 119.9 589.1 120.0 590.2 120.2 591.4 120.3 592.6 120.5 593.7 120.7 594.9 120.8 596.1 121.0 597.3 121.2 598.5 121.3 599.7 121.5 600.9 121.7 602.1 121.8 603.4 122.0 604.6 122.2 605.8 122.3 607.1 122.5 608.3 122.7 609.6 122.8 610.8 123.0 612.1 123.2 613.3 123.3 614.6 123.5 615.8 123.7 617.1 123.9 618.3 124.0 619.6 124.2 620.8 124.4 622.0 124.5 623.3 124.7 624.5 124.9 625.7 125.0 626.9 125.2 628.1 125.4 629.2 125.6 630.4 125.7 631.5 125.9 632.7 126.1 633.8 126.3 634.9 126.4 635.9 126.6 637.0 126.8 638.0 127.0 639.1 127.1 640.1 127.3 641.2 127.5 642.2 127.7 643.2 127.9 644.2 128.1 645.2 128.2 646.2 128.4 647.2 128.6 648.2 128.8 649.1 129.0 650.1 129.2 651.0 129.4 651.9 129.6 652.9 129.7 653.8 129.9 654.6 130.1 655.5 130.3 656.4 130.5 657.2 130.6 658.0 130.8 658.8 131.0 659.6 131.1 660.4 131.3 661.2 131.5 661.9 131.6 662.6 131.8 663.3 132.0 664.7 132.3 665.9 132.5 667.0 132.8 668.1 133.0 669.1 133.2 670.0 133.4 670.8 133.6 671.6 133.8 672.4 134.0 673.1 134.1 673.8 134.3 674.5 134.5 675.2 134.7 675.9 134.9 676.6 135.1 677.4 135.3 678.1 135.6 679.1 135.9 680.0 136.2 680.9 136.4 681.8 136.7 682.6 137.0 683.4 137.4 684.3 137.7 685.1 138.1 686.0 138.5 686.9 139.0 687.9 139.3 688.5 139.6 689.2 140.0 689.8 140.3 690.4 140.7 691.1 141.2 692.0 141.7 692.8 142.2 693.6 142.7 694.3 143.1 694.9 143.7 695.5 144.2 696.0 144.9 696.4 145.6 696.8 146.3 697.1 147.0 697.3 147.8 697.3 148.5 697.2 149.3 696.9 150.0 696.6 150.7 696.5 151.4 696.2 152.2 695.6 153.7 693.8 155.2 691.7 156.7 689.4 158.2 686.9 159.7 684.3 161.2 681.5 162.7 678.3 164.2 674.6 165.7 670.9 167.2 667.5 168.7 664.2 170.2 660.9 171.7 657.7 173.2 654.6 174.7 651.6 176.2 648.8 177.7 646.0 179.2 643.3 180.7 640.7 182.2 638.3 183.7 635.9 185.2 633.7 186.7 631.5 188.2 629.4 189.7 627.4 191.2 625.5 192.7 623.6 194.2 621.7 195.7 619.8 197.2 618.0 198.7 616.1 200.2 614.2 201.7 612.3 203.2 610.4 204.7 608.5 206.2 606.5 207.7 604.5 209.2 602.5 210.7 600.5 212.2 598.4 213.7 596.3 215.2 594.2 216.7 592.1 218.2 590.0 219.7 587.9 221.2 585.8 222.7 583.7 224.2 581.6 225.7 579.5 227.2 577.4 228.7 575.3 230.2 573.2 231.7 571.2 233.2 569.2 234.7 567.3 236.2 565.5 237.7 563.6 239.2 561.9 240.7 560.2 242.2 558.6 243.7 557.0 245.2 555.5 246.7 554.1 248.2 552.7 249.7 551.4 251.2 550.1 252.7 548.9 254.2 547.7 255.7 546.5 257.1 545.4 258.6 544.3 260.1 543.2 261.6 542.2 263.1 541.1 264.6 540.2 266.1 539.2 267.6 538.3 269.1 537.4 270.6 536.6 272.1 535.8 273.6 535.1 275.1 534.4 276.6 533.7 278.1 533.0 279.6 532.4 281.1 531.9 282.6 531.3 284.1 530.8 285.6 530.3 287.1 529.9 288.6 529.5 290.1 529.1 291.6 528.8 293.1 528.5 294.6 528.3 296.1 528.1 297.6 528.0 299.1 527.9 300.6 527.9 302.1 527.9 303.6 527.9 305.1 528.1 306.6 528.2 308.1 528.4 309.6 528.7 311.1 529.0 312.6 529.3 314.1 529.6 315.6 530.0 317.1 530.4 318.6 530.8 320.1 531.2 321.6 531.6 323.1 532.1 324.6 532.6 326.1 533.1 327.6 533.6 329.1 534.1 330.6 534.7 332.1 535.3 333.6 536.0 335.1 536.7 336.6 537.4 338.1 538.1 339.6 538.9 341.1 539.7 342.6 540.6 344.1 541.4 345.6 542.3 347.1 543.2 348.6 544.1 350.1 545.0 351.6 546.0 353.1 546.9 354.6 547.8 356.1 548.7 357.6 549.6 359.1 550.5 360.6 551.4 362.1 552.3 363.6 553.2 365.1 554.1 366.6 554.9 368.1 555.8 369.6 556.6 371.1 557.5 372.6 558.3 374.1 559.2 375.6 560.0 377.1 560.8 378.6 561.6 380.1 562.4 381.6 563.2 383.1 564.0 384.6 564.7 386.1 565.4 387.6 566.1 389.1 566.8 390.6 567.4 392.1 568.0 393.6 568.6 395.1 569.2 396.6 569.7 398.1 570.3 399.6 570.8 401.1 571.3 402.6 571.7 404.1 572.2 405.6 572.6 407.1 573.0 408.6 573.4 410.1 573.8 411.6 574.1 413.1 574.5 414.6 574.8 416.1 575.1 417.6 575.3 419.1 575.6 420.6 575.8 422.1 576.0 423.6 576.2 425.1 576.3 426.6 576.5 428.1 576.6 429.6 576.7 431.1 576.8 432.6 576.9 434.1 577.0 435.6 577.1 437.1 577.1 438.6 577.2 440.1 577.2 441.6 577.2 443.1 577.1 444.6 577.1 446.1 577.0 447.6 576.9 449.1 576.8 450.6 576.7 452.1 576.6 453.6 576.4 455.1 576.3 456.6 576.1 458.1 575.9 459.6 575.7 461.1 575.5 462.6 575.3 464.1 575.1 465.6 574.9 467.1 574.6 468.6 574.4 470.1 574.2 471.6 573.9 473.1 573.7 474.6 573.4 476.1 573.2 477.6 572.9 479.1 572.7 480.6 572.5 482.1 572.3 483.6 572.0 485.1 571.8 486.6 571.5 488.1 571.3 489.6 571.0 491.1 570.7 492.6 570.4 494.1 570.1 495.6 569.8 497.1 569.5 498.6 569.1 500.1 568.8 501.6 568.4 503.1 568.1 504.6 567.8 506.1 567.4 507.6 567.1 509.1 566.7 510.6 566.4 512.1 566.0 513.6 565.7 515.1 565.3 516.6 565.0 518.1 564.6 519.6 564.3 521.1 563.9 522.6 563.6 524.1 563.3 525.6 562.9 527.1 562.6 528.6 562.3 530.1 562.0 531.6 561.7 533.1 561.4 534.6 561.1 536.1 560.9 537.6 560.6 539.1 560.4 540.6 560.2 542.1 560.0 543.6 559.8 545.1 559.6 546.6 559.4 548.1 559.3 549.6 559.1 551.1 559.0 552.6 558.8 554.1 558.7 555.6 558.6 557.1 558.4 558.6 558.3 560.1 558.2 561.6 558.1 563.1 558.0 564.6 557.9 566.1 557.9 567.6 557.8 569.1 557.8 570.6 557.7 572.1 557.7 573.6 557.7 575.1 557.6 576.6 557.6 578.1 557.6 579.6 557.6 581.1 557.6 582.6 557.6 584.1 557.6 585.6 557.7 587.1 557.7 588.6 557.7 590.1 557.7 591.6 557.8 593.1 557.8 594.6 557.9 596.1 557.9 597.6 558.0 599.1 558.0 600.6 558.1 602.1 558.2 603.6 558.2 605.1 558.3 606.6 558.4 608.1 558.4 609.6 558.5 611.1 558.6 612.6 558.7 614.1 558.8 615.6 558.9 617.1 559.0 618.6 559.1 620.1 559.2 621.6 559.3 623.1 559.4 624.6 559.5 626.1 559.6 627.6 559.7 629.1 559.9 630.6 560.0 632.1 560.1 633.6 560.3 635.1 560.4 636.6 560.6 638.1 560.8 639.6 560.9 641.1 561.1 642.6 561.2 644.1 561.4 645.6 561.5 647.1 561.7 648.6 561.8 650.1 562.0 651.6 562.1 653.1 562.3 654.6 562.4 656.1 562.5 657.6 562.7 659.1 562.8 660.6 562.9 662.1 563.0 663.6 563.2 665.1 563.3 666.6 563.4 668.1 563.5 669.6 563.6 671.1 563.7 672.6 563.8 674.1 563.9 675.6 564.0 677.1 564.1 678.6 564.2 680.1 564.3 681.6 564.4 683.1 564.5 684.6 564.5 686.1 564.6 687.6 564.7 689.1 564.7 690.6 564.8 692.1 564.8 693.6 564.9 695.1 564.9 696.6 565.0 698.1 565.0 699.6 565.1 701.1 565.1 702.6 565.1 704.1 565.1 705.6 565.1 707.1 565.2 708.6 565.2 710.1 565.2 711.6 565.2 713.1 565.2 714.6 565.2 716.1 565.2 717.6 565.2 719.1 565.2 720.6 565.2 722.1 565.2 723.6 565.2 725.1 565.2 726.6 565.2 728.1 565.2 729.6 565.2 731.1 565.1 732.6 565.1 734.1 565.1 735.6 565.1 737.1 565.1 738.6 565.1 740.1 565.0 741.6 565.0 743.1 565.0 744.6 565.0 746.1 565.0 747.6 564.9 749.1 564.9 750.6 564.9 752.1 564.8 753.6 564.8 755.1 564.8 756.6 564.8 758.1 564.7 759.6 564.7 761.1 564.7 762.6 564.6 764.1 564.6 765.6 564.6 767.1 564.5 768.6 564.5 770.1 564.5 771.6 564.5 773.1 564.4 774.6 564.4 776.1 564.4 777.6 564.3 779.1 564.3 780.6 564.3 782.1 564.3 783.6 564.2 785.1 564.2 786.6 564.2 788.1 564.2 789.6 564.1 791.1 564.1 792.6 564.1 794.1 564.0 795.6 564.0 797.1 564.0 798.6 564.0 800.1 563.9 801.6 563.9 803.1 563.9 804.6 563.8 806.1 563.8 807.6 563.8 809.1 563.8 810.6 563.7 812.1 563.7 813.6 563.7 815.1 563.7 816.6 563.7 818.1 563.6 819.6 563.6 821.1 563.6 822.6 563.6 824.1 563.6 825.6 563.5 827.1 563.5 828.6 563.5 830.1 563.5 831.6 563.5 833.1 563.5 834.6 563.5 836.1 563.4 837.6 563.4 839.1 563.4 840.6 563.4 842.1 563.4 843.6 563.4 845.1 563.4 846.6 563.4 848.1 563.4 849.6 563.4 851.1 563.4 852.6 563.3 854.1 563.3 855.6 563.3 857.1 563.3 858.6 563.3 860.1 563.3 861.6 563.3 863.1 563.3 864.6 563.3 866.1 563.3 867.6 563.3 869.1 563.3 870.6 563.3 872.1 563.3 873.6 563.3 875.1 563.3 876.6 563.2 878.1 563.2 879.6 563.2 881.1 563.2 882.6 563.2 884.1 563.2 885.6 563.2 887.1 563.2 888.6 563.2 890.1 563.2 891.6 563.2 893.1 563.2 894.6 563.2 896.1 563.2 897.6 563.2 899.1 563.2 900.6 563.2 902.1 563.2 903.6 563.2 905.1 563.2 906.6 563.2 908.1 563.2 909.6 563.2 911.1 563.2 912.6 563.2 914.1 563.2 915.6 563.2 917.1 563.2 918.6 563.2 920.1 563.2 921.6 563.2 923.1 563.2 924.6 563.2 926.1 563.2 927.6 563.2 929.1 563.2 930.6 563.2 932.1 563.2 933.6 563.2 935.1 563.2 936.6 563.2 938.1 563.2 939.6 563.2 941.1 563.2 942.6 563.2 944.1 563.2 945.6 563.2 947.1 563.2 948.6 563.2 950.1 563.2 951.6 563.2 953.1 563.2 954.6 563.2 956.1 563.2 957.6 563.3 959.1 563.3 960.6 563.3 962.1 563.3 963.6 563.3 965.1 563.3 966.6 563.3 968.1 563.3 969.6 563.3 971.1 563.3 972.6 563.3 974.1 563.3 975.6 563.3 977.1 563.3 978.6 563.3 980.1 563.3 981.6 563.3 983.1 563.3 983.4 563.3" stroke="#0000ff"/>
</g>
<g class="t" font-family='"Liberation Sans", sans-serif' font-size="27.4" fill="#000">
<text x="92.78" y="770.40">0</text>
<text x="240.03" y="770.40">5</text>
<text x="379.66" y="770.40"> 0</text><path transform="translate(379.66 770.40) scale(0.013379 -0.013379)" d="M763 0L583 0L583 1147Q440 1010 223 930L223 1104Q480 1220 646 1466L763 1466Z"/>
<text x="526.91" y="770.40"> 5</text><path transform="translate(526.91 770.40) scale(0.013379 -0.013379)" d="M763 0L583 0L583 1147Q440 1010 223 930L223 1104Q480 1220 646 1466L763 1466Z"/>
<text x="674.16" y="770.40">20</text>
<text x="821.41" y="770.40">25</text>
<text x="968.66" y="770.40">30</text>
<text x="54.01" y="50.85"> .2</text><path transform="translate(54.01 50.85) scale(0.013379 -0.013379)" d="M763 0L583 0L583 1147Q440 1010 223 930L223 1104Q480 1220 646 1466L763 1466Z"/>
<text x="76.86" y="137.89"> </text><path transform="translate(76.86 137.89) scale(0.013379 -0.013379)" d="M763 0L583 0L583 1147Q440 1010 223 930L223 1104Q480 1220 646 1466L763 1466Z"/>
<text x="54.01" y="224.92">0.8</text>
<text x="54.01" y="311.96">0.6</text>
<text x="54.01" y="399.00">0.4</text>
<text x="54.01" y="486.04">0.2</text>
<text x="76.86" y="573.08">0</text>
<text x="38.01" y="660.11">−0.2</text>
<text x="38.01" y="747.15">−0.4</text>
<text x="542.3" y="802.5" text-anchor="middle">Time(s)</text>
<text x="542.6" y="19.5" text-anchor="middle">Time−delay=0.3690</text>
<text transform="translate(20.8 389.2) rotate(-90)" text-anchor="middle">State</text>
<text x="426" y="213.6">position state</text>
<text x="475.75" y="465.5">velocity state</text>
</g>
<path d="M587 220.1L677.8 311.2" stroke="#000" stroke-width="1.5" fill="none"/><path d="M690.6 324.8L678.95 298.1L677.8 311.2L663.9 312.3Z" fill="#000"/>
<path d="M631.5 472.6L703.8 543.5" stroke="#000" stroke-width="1.5" fill="none"/><path d="M717.4 556.8L705.1 530.2L703.8 543.5L690.5 544.8Z" fill="#000"/>
</svg>
</body></html>
